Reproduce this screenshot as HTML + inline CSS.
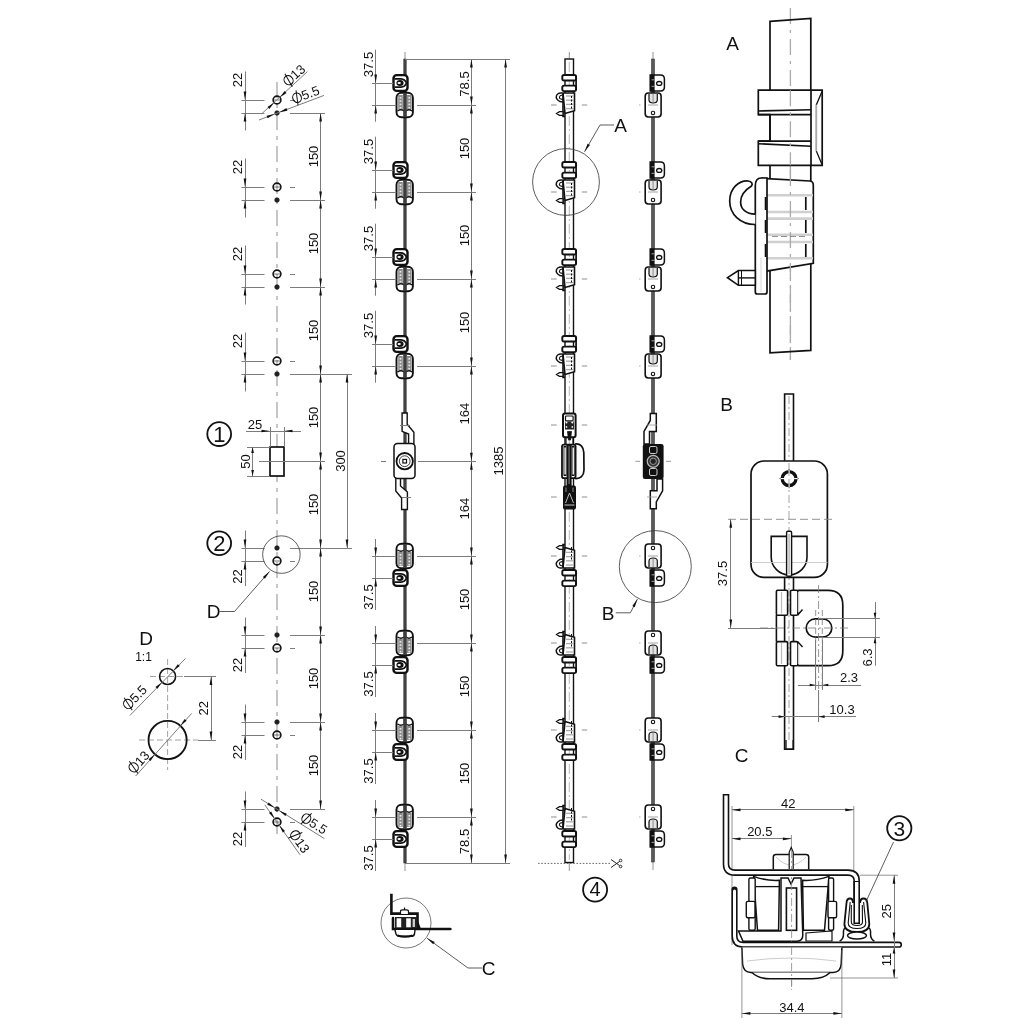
<!DOCTYPE html>
<html><head><meta charset="utf-8"><style>
html,body{margin:0;padding:0;background:#fff;}
svg{display:block;font-family:"Liberation Sans",sans-serif;will-change:transform;}
</style></head><body>
<svg width="1024" height="1024" viewBox="0 0 1024 1024">
<rect width="1024" height="1024" fill="#fff"/>
<line x1="277" y1="82" x2="277" y2="840" stroke="#b4b4b4" stroke-width="1.5" stroke-dasharray="16 6 4 6"/>
<circle cx="277" cy="100" r="3.9" stroke="#111" stroke-width="1.6" fill="none" />
<line x1="273.1" y1="100" x2="280.9" y2="100" stroke="#333" stroke-width="0.7" />
<circle cx="277" cy="113" r="2.3" fill="#222" stroke="#111" stroke-width="0.6"/>
<line x1="241.5" y1="100.5" x2="264.5" y2="100.5" stroke="#7c7c7c" stroke-width="1.0" />
<line x1="290" y1="100.5" x2="295" y2="100.5" stroke="#7c7c7c" stroke-width="1.0" />
<line x1="241.5" y1="113.5" x2="264.5" y2="113.5" stroke="#7c7c7c" stroke-width="1.0" />
<line x1="290" y1="113.5" x2="325" y2="113.5" stroke="#7c7c7c" stroke-width="1.0" />
<line x1="245.5" y1="71.5" x2="245.5" y2="130.5" stroke="#7c7c7c" stroke-width="1.0" />
<polygon points="245,100 243.65,91.5 246.35,91.5" fill="#111"/>
<polygon points="245,113 246.35,121.5 243.65,121.5" fill="#111"/>
<text transform="translate(237.7,80) rotate(-90)" y="4.68" font-size="13" text-anchor="middle" fill="#111" >22</text>
<circle cx="277" cy="187" r="3.9" stroke="#111" stroke-width="1.6" fill="none" />
<line x1="273.1" y1="187" x2="280.9" y2="187" stroke="#333" stroke-width="0.7" />
<circle cx="277" cy="200" r="2.3" fill="#222" stroke="#111" stroke-width="0.6"/>
<line x1="241.5" y1="187.5" x2="264.5" y2="187.5" stroke="#7c7c7c" stroke-width="1.0" />
<line x1="290" y1="187.5" x2="295" y2="187.5" stroke="#7c7c7c" stroke-width="1.0" />
<line x1="241.5" y1="200.5" x2="264.5" y2="200.5" stroke="#7c7c7c" stroke-width="1.0" />
<line x1="290" y1="200.5" x2="325" y2="200.5" stroke="#7c7c7c" stroke-width="1.0" />
<line x1="245.5" y1="158.5" x2="245.5" y2="217.5" stroke="#7c7c7c" stroke-width="1.0" />
<polygon points="245,187 243.65,178.5 246.35,178.5" fill="#111"/>
<polygon points="245,200 246.35,208.5 243.65,208.5" fill="#111"/>
<text transform="translate(237.7,167) rotate(-90)" y="4.68" font-size="13" text-anchor="middle" fill="#111" >22</text>
<circle cx="277" cy="274" r="3.9" stroke="#111" stroke-width="1.6" fill="none" />
<line x1="273.1" y1="274" x2="280.9" y2="274" stroke="#333" stroke-width="0.7" />
<circle cx="277" cy="287" r="2.3" fill="#222" stroke="#111" stroke-width="0.6"/>
<line x1="241.5" y1="274.5" x2="264.5" y2="274.5" stroke="#7c7c7c" stroke-width="1.0" />
<line x1="290" y1="274.5" x2="295" y2="274.5" stroke="#7c7c7c" stroke-width="1.0" />
<line x1="241.5" y1="287.5" x2="264.5" y2="287.5" stroke="#7c7c7c" stroke-width="1.0" />
<line x1="290" y1="287.5" x2="325" y2="287.5" stroke="#7c7c7c" stroke-width="1.0" />
<line x1="245.5" y1="245.5" x2="245.5" y2="304.5" stroke="#7c7c7c" stroke-width="1.0" />
<polygon points="245,274 243.65,265.5 246.35,265.5" fill="#111"/>
<polygon points="245,287 246.35,295.5 243.65,295.5" fill="#111"/>
<text transform="translate(237.7,254) rotate(-90)" y="4.68" font-size="13" text-anchor="middle" fill="#111" >22</text>
<circle cx="277" cy="361" r="3.9" stroke="#111" stroke-width="1.6" fill="none" />
<line x1="273.1" y1="361" x2="280.9" y2="361" stroke="#333" stroke-width="0.7" />
<circle cx="277" cy="374" r="2.3" fill="#222" stroke="#111" stroke-width="0.6"/>
<line x1="241.5" y1="361.5" x2="264.5" y2="361.5" stroke="#7c7c7c" stroke-width="1.0" />
<line x1="290" y1="361.5" x2="295" y2="361.5" stroke="#7c7c7c" stroke-width="1.0" />
<line x1="241.5" y1="374.5" x2="264.5" y2="374.5" stroke="#7c7c7c" stroke-width="1.0" />
<line x1="290" y1="374.5" x2="352" y2="374.5" stroke="#7c7c7c" stroke-width="1.0" />
<line x1="245.5" y1="332.5" x2="245.5" y2="391.5" stroke="#7c7c7c" stroke-width="1.0" />
<polygon points="245,361 243.65,352.5 246.35,352.5" fill="#111"/>
<polygon points="245,374 246.35,382.5 243.65,382.5" fill="#111"/>
<text transform="translate(237.7,341) rotate(-90)" y="4.68" font-size="13" text-anchor="middle" fill="#111" >22</text>
<circle cx="277" cy="561" r="3.9" stroke="#111" stroke-width="1.6" fill="none" />
<line x1="273.1" y1="561" x2="280.9" y2="561" stroke="#333" stroke-width="0.7" />
<circle cx="277" cy="548" r="2.3" fill="#222" stroke="#111" stroke-width="0.6"/>
<line x1="241.5" y1="561.5" x2="264.5" y2="561.5" stroke="#7c7c7c" stroke-width="1.0" />
<line x1="290" y1="561.5" x2="295" y2="561.5" stroke="#7c7c7c" stroke-width="1.0" />
<line x1="241.5" y1="548.5" x2="264.5" y2="548.5" stroke="#7c7c7c" stroke-width="1.0" />
<line x1="290" y1="548.5" x2="352" y2="548.5" stroke="#7c7c7c" stroke-width="1.0" />
<line x1="245.5" y1="530.5" x2="245.5" y2="586" stroke="#7c7c7c" stroke-width="1.0" />
<polygon points="245,548 243.65,539.5 246.35,539.5" fill="#111"/>
<polygon points="245,561 246.35,569.5 243.65,569.5" fill="#111"/>
<text transform="translate(237.7,576.5) rotate(-90)" y="4.68" font-size="13" text-anchor="middle" fill="#111" >22</text>
<circle cx="277" cy="648" r="3.9" stroke="#111" stroke-width="1.6" fill="none" />
<line x1="273.1" y1="648" x2="280.9" y2="648" stroke="#333" stroke-width="0.7" />
<circle cx="277" cy="635" r="2.3" fill="#222" stroke="#111" stroke-width="0.6"/>
<line x1="241.5" y1="648.5" x2="264.5" y2="648.5" stroke="#7c7c7c" stroke-width="1.0" />
<line x1="290" y1="648.5" x2="295" y2="648.5" stroke="#7c7c7c" stroke-width="1.0" />
<line x1="241.5" y1="635.5" x2="264.5" y2="635.5" stroke="#7c7c7c" stroke-width="1.0" />
<line x1="290" y1="635.5" x2="325" y2="635.5" stroke="#7c7c7c" stroke-width="1.0" />
<line x1="245.5" y1="617.5" x2="245.5" y2="673" stroke="#7c7c7c" stroke-width="1.0" />
<polygon points="245,635 243.65,626.5 246.35,626.5" fill="#111"/>
<polygon points="245,648 246.35,656.5 243.65,656.5" fill="#111"/>
<text transform="translate(237.7,665) rotate(-90)" y="4.68" font-size="13" text-anchor="middle" fill="#111" >22</text>
<circle cx="277" cy="735" r="3.9" stroke="#111" stroke-width="1.6" fill="none" />
<line x1="273.1" y1="735" x2="280.9" y2="735" stroke="#333" stroke-width="0.7" />
<circle cx="277" cy="722" r="2.3" fill="#222" stroke="#111" stroke-width="0.6"/>
<line x1="241.5" y1="735.5" x2="264.5" y2="735.5" stroke="#7c7c7c" stroke-width="1.0" />
<line x1="290" y1="735.5" x2="295" y2="735.5" stroke="#7c7c7c" stroke-width="1.0" />
<line x1="241.5" y1="722.5" x2="264.5" y2="722.5" stroke="#7c7c7c" stroke-width="1.0" />
<line x1="290" y1="722.5" x2="325" y2="722.5" stroke="#7c7c7c" stroke-width="1.0" />
<line x1="245.5" y1="704.5" x2="245.5" y2="760" stroke="#7c7c7c" stroke-width="1.0" />
<polygon points="245,722 243.65,713.5 246.35,713.5" fill="#111"/>
<polygon points="245,735 246.35,743.5 243.65,743.5" fill="#111"/>
<text transform="translate(237.7,752) rotate(-90)" y="4.68" font-size="13" text-anchor="middle" fill="#111" >22</text>
<circle cx="277" cy="822" r="3.9" stroke="#111" stroke-width="1.6" fill="none" />
<line x1="273.1" y1="822" x2="280.9" y2="822" stroke="#333" stroke-width="0.7" />
<circle cx="277" cy="809" r="2.3" fill="#222" stroke="#111" stroke-width="0.6"/>
<line x1="241.5" y1="822.5" x2="264.5" y2="822.5" stroke="#7c7c7c" stroke-width="1.0" />
<line x1="290" y1="822.5" x2="295" y2="822.5" stroke="#7c7c7c" stroke-width="1.0" />
<line x1="241.5" y1="809.5" x2="264.5" y2="809.5" stroke="#7c7c7c" stroke-width="1.0" />
<line x1="290" y1="809.5" x2="325" y2="809.5" stroke="#7c7c7c" stroke-width="1.0" />
<line x1="245.5" y1="791.5" x2="245.5" y2="847" stroke="#7c7c7c" stroke-width="1.0" />
<polygon points="245,809 243.65,800.5 246.35,800.5" fill="#111"/>
<polygon points="245,822 246.35,830.5 243.65,830.5" fill="#111"/>
<text transform="translate(237.7,839) rotate(-90)" y="4.68" font-size="13" text-anchor="middle" fill="#111" >22</text>
<line x1="320.5" y1="113" x2="320.5" y2="200" stroke="#7c7c7c" stroke-width="1.0" />
<polygon points="320.6,113 321.95,121.5 319.25,121.5" fill="#111"/>
<polygon points="320.6,200 319.25,191.5 321.95,191.5" fill="#111"/>
<text transform="translate(313.2,156.5) rotate(-90)" y="4.68" font-size="13" text-anchor="middle" fill="#111" >150</text>
<line x1="320.5" y1="200" x2="320.5" y2="287" stroke="#7c7c7c" stroke-width="1.0" />
<polygon points="320.6,200 321.95,208.5 319.25,208.5" fill="#111"/>
<polygon points="320.6,287 319.25,278.5 321.95,278.5" fill="#111"/>
<text transform="translate(313.2,243.5) rotate(-90)" y="4.68" font-size="13" text-anchor="middle" fill="#111" >150</text>
<line x1="320.5" y1="287" x2="320.5" y2="374" stroke="#7c7c7c" stroke-width="1.0" />
<polygon points="320.6,287 321.95,295.5 319.25,295.5" fill="#111"/>
<polygon points="320.6,374 319.25,365.5 321.95,365.5" fill="#111"/>
<text transform="translate(313.2,330.5) rotate(-90)" y="4.68" font-size="13" text-anchor="middle" fill="#111" >150</text>
<line x1="320.5" y1="374" x2="320.5" y2="461" stroke="#7c7c7c" stroke-width="1.0" />
<polygon points="320.6,374 321.95,382.5 319.25,382.5" fill="#111"/>
<polygon points="320.6,461 319.25,452.5 321.95,452.5" fill="#111"/>
<text transform="translate(313.2,417.5) rotate(-90)" y="4.68" font-size="13" text-anchor="middle" fill="#111" >150</text>
<line x1="320.5" y1="461" x2="320.5" y2="548" stroke="#7c7c7c" stroke-width="1.0" />
<polygon points="320.6,461 321.95,469.5 319.25,469.5" fill="#111"/>
<polygon points="320.6,548 319.25,539.5 321.95,539.5" fill="#111"/>
<text transform="translate(313.2,504.5) rotate(-90)" y="4.68" font-size="13" text-anchor="middle" fill="#111" >150</text>
<line x1="320.5" y1="548" x2="320.5" y2="635" stroke="#7c7c7c" stroke-width="1.0" />
<polygon points="320.6,548 321.95,556.5 319.25,556.5" fill="#111"/>
<polygon points="320.6,635 319.25,626.5 321.95,626.5" fill="#111"/>
<text transform="translate(313.2,591.5) rotate(-90)" y="4.68" font-size="13" text-anchor="middle" fill="#111" >150</text>
<line x1="320.5" y1="635" x2="320.5" y2="722" stroke="#7c7c7c" stroke-width="1.0" />
<polygon points="320.6,635 321.95,643.5 319.25,643.5" fill="#111"/>
<polygon points="320.6,722 319.25,713.5 321.95,713.5" fill="#111"/>
<text transform="translate(313.2,678.5) rotate(-90)" y="4.68" font-size="13" text-anchor="middle" fill="#111" >150</text>
<line x1="320.5" y1="722" x2="320.5" y2="809" stroke="#7c7c7c" stroke-width="1.0" />
<polygon points="320.6,722 321.95,730.5 319.25,730.5" fill="#111"/>
<polygon points="320.6,809 319.25,800.5 321.95,800.5" fill="#111"/>
<text transform="translate(313.2,765.5) rotate(-90)" y="4.68" font-size="13" text-anchor="middle" fill="#111" >150</text>
<line x1="347.5" y1="374" x2="347.5" y2="548" stroke="#7c7c7c" stroke-width="1.0" />
<polygon points="347,374 348.35,382.5 345.65,382.5" fill="#111"/>
<polygon points="347,548 345.65,539.5 348.35,539.5" fill="#111"/>
<text transform="translate(340.2,461) rotate(-90)" y="4.68" font-size="13" text-anchor="middle" fill="#111" >300</text>
<rect x="270" y="447" width="14" height="29" rx="0" stroke="#111" stroke-width="1.7" fill="#fff" />
<line x1="259" y1="461.5" x2="325" y2="461.5" stroke="#7c7c7c" stroke-width="1.0" />
<line x1="270.5" y1="427" x2="270.5" y2="447" stroke="#7c7c7c" stroke-width="1.0" />
<line x1="284.5" y1="427" x2="284.5" y2="447" stroke="#7c7c7c" stroke-width="1.0" />
<line x1="247" y1="447.5" x2="270" y2="447.5" stroke="#7c7c7c" stroke-width="1.0" />
<line x1="247" y1="476.5" x2="270" y2="476.5" stroke="#7c7c7c" stroke-width="1.0" />
<line x1="246" y1="431.5" x2="301" y2="431.5" stroke="#7c7c7c" stroke-width="1.0" />
<polygon points="270,431 261.5,432.35 261.5,429.65" fill="#111"/>
<polygon points="284,431 292.5,429.65 292.5,432.35" fill="#111"/>
<text x="255" y="428.68" font-size="13" text-anchor="middle" fill="#111" >25</text>
<line x1="252.5" y1="447" x2="252.5" y2="476" stroke="#7c7c7c" stroke-width="1.0" />
<polygon points="252.6,447 253.95,453 251.25,453" fill="#111"/>
<polygon points="252.6,476 251.25,470 253.95,470" fill="#111"/>
<text transform="translate(245.4,461.5) rotate(-90)" y="4.68" font-size="13" text-anchor="middle" fill="#111" >50</text>
<circle cx="219.2" cy="434.1" r="11.9" stroke="#111" stroke-width="1.8" fill="none" />
<text x="219.3" y="442.22" font-size="22" text-anchor="middle" fill="#111" >1</text>
<circle cx="219.2" cy="543.2" r="11.9" stroke="#111" stroke-width="1.8" fill="none" />
<text x="219.3" y="551.32" font-size="22" text-anchor="middle" fill="#111" >2</text>
<circle cx="281.4" cy="554.6" r="18.75" stroke="#333" stroke-width="0.8" fill="none" />
<path d="M219.5,611.5 L234.5,611.5 L269.5,571.5" stroke="#333" stroke-width="0.8" fill="none" />
<polygon points="269.5,571.5 264.92,578.79 262.89,577.01" fill="#111"/>
<text x="213.5" y="617.94" font-size="19" text-anchor="middle" fill="#111" >D</text>
<line x1="261.7" y1="113.8" x2="307.4" y2="71.6" stroke="#7c7c7c" stroke-width="1.0" />
<polygon points="274.3,102.6 269.33,109.01 267.5,107.02" fill="#111"/>
<polygon points="279.7,97.4 284.67,90.99 286.5,92.98" fill="#111"/>
<g transform="translate(293.9,75.3) rotate(-42.7)"><ellipse cx="-7.23" cy="0" rx="4.29" ry="4.81" fill="none" stroke="#111" stroke-width="1.1"/><line x1="-5.54" y1="-7.28" x2="-8.92" y2="7.28" stroke="#111" stroke-width="0.97"/><text x="-2.03" y="4.68" font-size="13" fill="#111">13</text></g>
<line x1="259" y1="120" x2="324" y2="95.4" stroke="#7c7c7c" stroke-width="1.0" />
<polygon points="274.6,114.1 267.59,118.19 266.64,115.67" fill="#111"/>
<polygon points="279.4,112.2 286.41,108.11 287.36,110.63" fill="#111"/>
<g transform="translate(305.5,94.6) rotate(-20.7)"><ellipse cx="-9.04" cy="0" rx="4.29" ry="4.81" fill="none" stroke="#111" stroke-width="1.1"/><line x1="-7.35" y1="-7.28" x2="-10.72" y2="7.28" stroke="#111" stroke-width="0.97"/><text x="-3.83" y="4.68" font-size="13" fill="#111">5.5</text></g>
<line x1="261" y1="799.2" x2="324.4" y2="838.6" stroke="#7c7c7c" stroke-width="1.0" />
<polygon points="279.3,810.7 286.81,813.77 285.39,816.06" fill="#111"/>
<polygon points="274.7,807.8 267.19,804.73 268.61,802.44" fill="#111"/>
<g transform="translate(314,823.4) rotate(31.9)"><ellipse cx="-9.04" cy="0" rx="4.29" ry="4.81" fill="none" stroke="#111" stroke-width="1.1"/><line x1="-7.35" y1="-7.28" x2="-10.72" y2="7.28" stroke="#111" stroke-width="0.97"/><text x="-3.83" y="4.68" font-size="13" fill="#111">5.5</text></g>
<line x1="264.8" y1="804.8" x2="300" y2="854.8" stroke="#7c7c7c" stroke-width="1.0" />
<polygon points="274.7,818.8 268.99,813.04 271.2,811.48" fill="#111"/>
<polygon points="279.3,825.2 285.01,830.96 282.8,832.52" fill="#111"/>
<g transform="translate(299.5,841.2) rotate(55)"><ellipse cx="-7.23" cy="0" rx="4.29" ry="4.81" fill="none" stroke="#111" stroke-width="1.1"/><line x1="-5.54" y1="-7.28" x2="-8.92" y2="7.28" stroke="#111" stroke-width="0.97"/><text x="-2.03" y="4.68" font-size="13" fill="#111">13</text></g>
<text x="146.2" y="644.74" font-size="19" text-anchor="middle" fill="#111" >D</text>
<text x="143.5" y="660.82" font-size="12" text-anchor="middle" fill="#111" >1:1</text>
<line x1="167.6" y1="659" x2="167.6" y2="770" stroke="#8a8a8a" stroke-width="0.8" stroke-dasharray="6 3"/>
<line x1="150" y1="676.5" x2="184" y2="676.5" stroke="#8a8a8a" stroke-width="0.8" stroke-dasharray="6 3"/>
<line x1="139" y1="740" x2="198" y2="740" stroke="#8a8a8a" stroke-width="0.8" stroke-dasharray="6 3"/>
<circle cx="167.6" cy="676.5" r="8" stroke="#111" stroke-width="1.6" fill="none" />
<circle cx="167.6" cy="740" r="19.1" stroke="#111" stroke-width="1.8" fill="none" />
<line x1="184" y1="676.5" x2="216" y2="676.5" stroke="#7c7c7c" stroke-width="1.0" />
<line x1="198" y1="740.5" x2="216" y2="740.5" stroke="#7c7c7c" stroke-width="1.0" />
<line x1="211.5" y1="676.5" x2="211.5" y2="740" stroke="#7c7c7c" stroke-width="1.0" />
<polygon points="211,676.5 212.35,685 209.65,685" fill="#111"/>
<polygon points="211,740 209.65,731.5 212.35,731.5" fill="#111"/>
<text transform="translate(203.7,708.3) rotate(-90)" y="4.68" font-size="13" text-anchor="middle" fill="#111" >22</text>
<line x1="129.9" y1="715.5" x2="185.5" y2="658.5" stroke="#7c7c7c" stroke-width="1.0" />
<polygon points="173.2,670.8 177.82,664.13 179.75,666.01" fill="#111"/>
<polygon points="162,682.2 157.38,688.87 155.45,686.99" fill="#111"/>
<g transform="translate(134.5,697.5) rotate(-45.7)"><ellipse cx="-9.04" cy="0" rx="4.29" ry="4.81" fill="none" stroke="#111" stroke-width="1.1"/><line x1="-7.35" y1="-7.28" x2="-10.72" y2="7.28" stroke="#111" stroke-width="0.97"/><text x="-3.83" y="4.68" font-size="13" fill="#111">5.5</text></g>
<line x1="135.7" y1="776" x2="191.7" y2="713.4" stroke="#7c7c7c" stroke-width="1.0" />
<polygon points="180.3,725.8 184.63,718.94 186.64,720.74" fill="#111"/>
<polygon points="154.9,754.2 150.57,761.06 148.56,759.26" fill="#111"/>
<g transform="translate(138.5,762) rotate(-48.2)"><ellipse cx="-7.23" cy="0" rx="4.29" ry="4.81" fill="none" stroke="#111" stroke-width="1.1"/><line x1="-5.54" y1="-7.28" x2="-8.92" y2="7.28" stroke="#111" stroke-width="0.97"/><text x="-2.03" y="4.68" font-size="13" fill="#111">13</text></g>
<line x1="405" y1="52" x2="405" y2="59" stroke="#666" stroke-width="0.7" />
<line x1="405" y1="863" x2="405" y2="871" stroke="#666" stroke-width="0.7" />
<rect x="403.8" y="59" width="2.4" height="804" fill="#444" stroke="#222" stroke-width="0.5"/>
<rect x="393.5" y="75.1" width="14" height="15.8" rx="3.2" stroke="#111" stroke-width="2.4" fill="#fff" />
<path d="M394.5,78.8 L401,78.8 Q404.8,79 406.5,83 Q404.8,87 401,87.2 L394.5,87.2" stroke="#111" stroke-width="1.8" fill="none" />
<ellipse cx="400" cy="83" rx="3.6" ry="3" fill="#111"/>
<ellipse cx="399.2" cy="83" rx="1.7" ry="1.1" fill="#fff"/>
<rect x="393.5" y="162.1" width="14" height="15.8" rx="3.2" stroke="#111" stroke-width="2.4" fill="#fff" />
<path d="M394.5,165.8 L401,165.8 Q404.8,166 406.5,170 Q404.8,174 401,174.2 L394.5,174.2" stroke="#111" stroke-width="1.8" fill="none" />
<ellipse cx="400" cy="170" rx="3.6" ry="3" fill="#111"/>
<ellipse cx="399.2" cy="170" rx="1.7" ry="1.1" fill="#fff"/>
<rect x="393.5" y="249.1" width="14" height="15.8" rx="3.2" stroke="#111" stroke-width="2.4" fill="#fff" />
<path d="M394.5,252.8 L401,252.8 Q404.8,253 406.5,257 Q404.8,261 401,261.2 L394.5,261.2" stroke="#111" stroke-width="1.8" fill="none" />
<ellipse cx="400" cy="257" rx="3.6" ry="3" fill="#111"/>
<ellipse cx="399.2" cy="257" rx="1.7" ry="1.1" fill="#fff"/>
<rect x="393.5" y="336.1" width="14" height="15.8" rx="3.2" stroke="#111" stroke-width="2.4" fill="#fff" />
<path d="M394.5,339.8 L401,339.8 Q404.8,340 406.5,344 Q404.8,348 401,348.2 L394.5,348.2" stroke="#111" stroke-width="1.8" fill="none" />
<ellipse cx="400" cy="344" rx="3.6" ry="3" fill="#111"/>
<ellipse cx="399.2" cy="344" rx="1.7" ry="1.1" fill="#fff"/>
<rect x="393.5" y="570.1" width="14" height="15.8" rx="3.2" stroke="#111" stroke-width="2.4" fill="#fff" />
<path d="M394.5,573.8 L401,573.8 Q404.8,574 406.5,578 Q404.8,582 401,582.2 L394.5,582.2" stroke="#111" stroke-width="1.8" fill="none" />
<ellipse cx="400" cy="578" rx="3.6" ry="3" fill="#111"/>
<ellipse cx="399.2" cy="578" rx="1.7" ry="1.1" fill="#fff"/>
<rect x="393.5" y="657.1" width="14" height="15.8" rx="3.2" stroke="#111" stroke-width="2.4" fill="#fff" />
<path d="M394.5,660.8 L401,660.8 Q404.8,661 406.5,665 Q404.8,669 401,669.2 L394.5,669.2" stroke="#111" stroke-width="1.8" fill="none" />
<ellipse cx="400" cy="665" rx="3.6" ry="3" fill="#111"/>
<ellipse cx="399.2" cy="665" rx="1.7" ry="1.1" fill="#fff"/>
<rect x="393.5" y="744.1" width="14" height="15.8" rx="3.2" stroke="#111" stroke-width="2.4" fill="#fff" />
<path d="M394.5,747.8 L401,747.8 Q404.8,748 406.5,752 Q404.8,756 401,756.2 L394.5,756.2" stroke="#111" stroke-width="1.8" fill="none" />
<ellipse cx="400" cy="752" rx="3.6" ry="3" fill="#111"/>
<ellipse cx="399.2" cy="752" rx="1.7" ry="1.1" fill="#fff"/>
<rect x="393.5" y="831.1" width="14" height="15.8" rx="3.2" stroke="#111" stroke-width="2.4" fill="#fff" />
<path d="M394.5,834.8 L401,834.8 Q404.8,835 406.5,839 Q404.8,843 401,843.2 L394.5,843.2" stroke="#111" stroke-width="1.8" fill="none" />
<ellipse cx="400" cy="839" rx="3.6" ry="3" fill="#111"/>
<ellipse cx="399.2" cy="839" rx="1.7" ry="1.1" fill="#fff"/>
<rect x="396.5" y="92.8" width="16.4" height="24.4" rx="5" stroke="#111" stroke-width="1.9" fill="#fff" />
<rect x="398.2" y="95" width="4.6" height="14" fill="#8c8c8c"/>
<rect x="407" y="95" width="4.6" height="14" fill="#8c8c8c"/>
<rect x="399.6" y="97" width="1.8" height="1.6" fill="#e8e8e8"/>
<rect x="408.4" y="97" width="1.8" height="1.6" fill="#e8e8e8"/>
<rect x="399.6" y="100.3" width="1.8" height="1.6" fill="#e8e8e8"/>
<rect x="408.4" y="100.3" width="1.8" height="1.6" fill="#e8e8e8"/>
<rect x="399.6" y="103.6" width="1.8" height="1.6" fill="#e8e8e8"/>
<rect x="408.4" y="103.6" width="1.8" height="1.6" fill="#e8e8e8"/>
<rect x="399.6" y="106.9" width="1.8" height="1.6" fill="#e8e8e8"/>
<rect x="408.4" y="106.9" width="1.8" height="1.6" fill="#e8e8e8"/>
<path d="M397.5,111 Q401,108.5 404,111 M406,111 Q409,108.5 412,111" stroke="#111" stroke-width="1.4" fill="none" />
<rect x="403.2" y="93" width="3.6" height="24" fill="#3c3c3c"/>
<rect x="396.5" y="179.8" width="16.4" height="24.4" rx="5" stroke="#111" stroke-width="1.9" fill="#fff" />
<rect x="398.2" y="182" width="4.6" height="14" fill="#8c8c8c"/>
<rect x="407" y="182" width="4.6" height="14" fill="#8c8c8c"/>
<rect x="399.6" y="184" width="1.8" height="1.6" fill="#e8e8e8"/>
<rect x="408.4" y="184" width="1.8" height="1.6" fill="#e8e8e8"/>
<rect x="399.6" y="187.3" width="1.8" height="1.6" fill="#e8e8e8"/>
<rect x="408.4" y="187.3" width="1.8" height="1.6" fill="#e8e8e8"/>
<rect x="399.6" y="190.6" width="1.8" height="1.6" fill="#e8e8e8"/>
<rect x="408.4" y="190.6" width="1.8" height="1.6" fill="#e8e8e8"/>
<rect x="399.6" y="193.9" width="1.8" height="1.6" fill="#e8e8e8"/>
<rect x="408.4" y="193.9" width="1.8" height="1.6" fill="#e8e8e8"/>
<path d="M397.5,198 Q401,195.5 404,198 M406,198 Q409,195.5 412,198" stroke="#111" stroke-width="1.4" fill="none" />
<rect x="403.2" y="180" width="3.6" height="24" fill="#3c3c3c"/>
<rect x="396.5" y="266.8" width="16.4" height="24.4" rx="5" stroke="#111" stroke-width="1.9" fill="#fff" />
<rect x="398.2" y="269" width="4.6" height="14" fill="#8c8c8c"/>
<rect x="407" y="269" width="4.6" height="14" fill="#8c8c8c"/>
<rect x="399.6" y="271" width="1.8" height="1.6" fill="#e8e8e8"/>
<rect x="408.4" y="271" width="1.8" height="1.6" fill="#e8e8e8"/>
<rect x="399.6" y="274.3" width="1.8" height="1.6" fill="#e8e8e8"/>
<rect x="408.4" y="274.3" width="1.8" height="1.6" fill="#e8e8e8"/>
<rect x="399.6" y="277.6" width="1.8" height="1.6" fill="#e8e8e8"/>
<rect x="408.4" y="277.6" width="1.8" height="1.6" fill="#e8e8e8"/>
<rect x="399.6" y="280.9" width="1.8" height="1.6" fill="#e8e8e8"/>
<rect x="408.4" y="280.9" width="1.8" height="1.6" fill="#e8e8e8"/>
<path d="M397.5,285 Q401,282.5 404,285 M406,285 Q409,282.5 412,285" stroke="#111" stroke-width="1.4" fill="none" />
<rect x="403.2" y="267" width="3.6" height="24" fill="#3c3c3c"/>
<rect x="396.5" y="353.8" width="16.4" height="24.4" rx="5" stroke="#111" stroke-width="1.9" fill="#fff" />
<rect x="398.2" y="356" width="4.6" height="14" fill="#8c8c8c"/>
<rect x="407" y="356" width="4.6" height="14" fill="#8c8c8c"/>
<rect x="399.6" y="358" width="1.8" height="1.6" fill="#e8e8e8"/>
<rect x="408.4" y="358" width="1.8" height="1.6" fill="#e8e8e8"/>
<rect x="399.6" y="361.3" width="1.8" height="1.6" fill="#e8e8e8"/>
<rect x="408.4" y="361.3" width="1.8" height="1.6" fill="#e8e8e8"/>
<rect x="399.6" y="364.6" width="1.8" height="1.6" fill="#e8e8e8"/>
<rect x="408.4" y="364.6" width="1.8" height="1.6" fill="#e8e8e8"/>
<rect x="399.6" y="367.9" width="1.8" height="1.6" fill="#e8e8e8"/>
<rect x="408.4" y="367.9" width="1.8" height="1.6" fill="#e8e8e8"/>
<path d="M397.5,372 Q401,369.5 404,372 M406,372 Q409,369.5 412,372" stroke="#111" stroke-width="1.4" fill="none" />
<rect x="403.2" y="354" width="3.6" height="24" fill="#3c3c3c"/>
<rect x="396.5" y="543.8" width="16.4" height="24.4" rx="5" stroke="#111" stroke-width="1.9" fill="#fff" />
<rect x="398.2" y="552" width="4.6" height="14" fill="#8c8c8c"/>
<rect x="407" y="552" width="4.6" height="14" fill="#8c8c8c"/>
<rect x="399.6" y="554" width="1.8" height="1.6" fill="#e8e8e8"/>
<rect x="408.4" y="554" width="1.8" height="1.6" fill="#e8e8e8"/>
<rect x="399.6" y="557.3" width="1.8" height="1.6" fill="#e8e8e8"/>
<rect x="408.4" y="557.3" width="1.8" height="1.6" fill="#e8e8e8"/>
<rect x="399.6" y="560.6" width="1.8" height="1.6" fill="#e8e8e8"/>
<rect x="408.4" y="560.6" width="1.8" height="1.6" fill="#e8e8e8"/>
<rect x="399.6" y="563.9" width="1.8" height="1.6" fill="#e8e8e8"/>
<rect x="408.4" y="563.9" width="1.8" height="1.6" fill="#e8e8e8"/>
<path d="M397.5,550 Q401,552.5 404,550 M406,550 Q409,552.5 412,550" stroke="#111" stroke-width="1.4" fill="none" />
<rect x="403.2" y="544" width="3.6" height="24" fill="#3c3c3c"/>
<rect x="396.5" y="630.8" width="16.4" height="24.4" rx="5" stroke="#111" stroke-width="1.9" fill="#fff" />
<rect x="398.2" y="639" width="4.6" height="14" fill="#8c8c8c"/>
<rect x="407" y="639" width="4.6" height="14" fill="#8c8c8c"/>
<rect x="399.6" y="641" width="1.8" height="1.6" fill="#e8e8e8"/>
<rect x="408.4" y="641" width="1.8" height="1.6" fill="#e8e8e8"/>
<rect x="399.6" y="644.3" width="1.8" height="1.6" fill="#e8e8e8"/>
<rect x="408.4" y="644.3" width="1.8" height="1.6" fill="#e8e8e8"/>
<rect x="399.6" y="647.6" width="1.8" height="1.6" fill="#e8e8e8"/>
<rect x="408.4" y="647.6" width="1.8" height="1.6" fill="#e8e8e8"/>
<rect x="399.6" y="650.9" width="1.8" height="1.6" fill="#e8e8e8"/>
<rect x="408.4" y="650.9" width="1.8" height="1.6" fill="#e8e8e8"/>
<path d="M397.5,637 Q401,639.5 404,637 M406,637 Q409,639.5 412,637" stroke="#111" stroke-width="1.4" fill="none" />
<rect x="403.2" y="631" width="3.6" height="24" fill="#3c3c3c"/>
<rect x="396.5" y="717.8" width="16.4" height="24.4" rx="5" stroke="#111" stroke-width="1.9" fill="#fff" />
<rect x="398.2" y="726" width="4.6" height="14" fill="#8c8c8c"/>
<rect x="407" y="726" width="4.6" height="14" fill="#8c8c8c"/>
<rect x="399.6" y="728" width="1.8" height="1.6" fill="#e8e8e8"/>
<rect x="408.4" y="728" width="1.8" height="1.6" fill="#e8e8e8"/>
<rect x="399.6" y="731.3" width="1.8" height="1.6" fill="#e8e8e8"/>
<rect x="408.4" y="731.3" width="1.8" height="1.6" fill="#e8e8e8"/>
<rect x="399.6" y="734.6" width="1.8" height="1.6" fill="#e8e8e8"/>
<rect x="408.4" y="734.6" width="1.8" height="1.6" fill="#e8e8e8"/>
<rect x="399.6" y="737.9" width="1.8" height="1.6" fill="#e8e8e8"/>
<rect x="408.4" y="737.9" width="1.8" height="1.6" fill="#e8e8e8"/>
<path d="M397.5,724 Q401,726.5 404,724 M406,724 Q409,726.5 412,724" stroke="#111" stroke-width="1.4" fill="none" />
<rect x="403.2" y="718" width="3.6" height="24" fill="#3c3c3c"/>
<rect x="396.5" y="804.8" width="16.4" height="24.4" rx="5" stroke="#111" stroke-width="1.9" fill="#fff" />
<rect x="398.2" y="813" width="4.6" height="14" fill="#8c8c8c"/>
<rect x="407" y="813" width="4.6" height="14" fill="#8c8c8c"/>
<rect x="399.6" y="815" width="1.8" height="1.6" fill="#e8e8e8"/>
<rect x="408.4" y="815" width="1.8" height="1.6" fill="#e8e8e8"/>
<rect x="399.6" y="818.3" width="1.8" height="1.6" fill="#e8e8e8"/>
<rect x="408.4" y="818.3" width="1.8" height="1.6" fill="#e8e8e8"/>
<rect x="399.6" y="821.6" width="1.8" height="1.6" fill="#e8e8e8"/>
<rect x="408.4" y="821.6" width="1.8" height="1.6" fill="#e8e8e8"/>
<rect x="399.6" y="824.9" width="1.8" height="1.6" fill="#e8e8e8"/>
<rect x="408.4" y="824.9" width="1.8" height="1.6" fill="#e8e8e8"/>
<path d="M397.5,811 Q401,813.5 404,811 M406,811 Q409,813.5 412,811" stroke="#111" stroke-width="1.4" fill="none" />
<rect x="403.2" y="805" width="3.6" height="24" fill="#3c3c3c"/>
<line x1="372" y1="83.5" x2="393.3" y2="83.5" stroke="#7c7c7c" stroke-width="1.0" />
<line x1="372" y1="170.5" x2="393.3" y2="170.5" stroke="#7c7c7c" stroke-width="1.0" />
<line x1="372" y1="257.5" x2="393.3" y2="257.5" stroke="#7c7c7c" stroke-width="1.0" />
<line x1="372" y1="344.5" x2="393.3" y2="344.5" stroke="#7c7c7c" stroke-width="1.0" />
<line x1="372" y1="578.5" x2="393.3" y2="578.5" stroke="#7c7c7c" stroke-width="1.0" />
<line x1="372" y1="665.5" x2="393.3" y2="665.5" stroke="#7c7c7c" stroke-width="1.0" />
<line x1="372" y1="752.5" x2="393.3" y2="752.5" stroke="#7c7c7c" stroke-width="1.0" />
<line x1="372" y1="839.5" x2="393.3" y2="839.5" stroke="#7c7c7c" stroke-width="1.0" />
<line x1="372" y1="105.5" x2="396.3" y2="105.5" stroke="#7c7c7c" stroke-width="1.0" />
<line x1="417" y1="105.5" x2="476" y2="105.5" stroke="#7c7c7c" stroke-width="1.0" />
<line x1="372" y1="192.5" x2="396.3" y2="192.5" stroke="#7c7c7c" stroke-width="1.0" />
<line x1="417" y1="192.5" x2="476" y2="192.5" stroke="#7c7c7c" stroke-width="1.0" />
<line x1="372" y1="279.5" x2="396.3" y2="279.5" stroke="#7c7c7c" stroke-width="1.0" />
<line x1="417" y1="279.5" x2="476" y2="279.5" stroke="#7c7c7c" stroke-width="1.0" />
<line x1="372" y1="366.5" x2="396.3" y2="366.5" stroke="#7c7c7c" stroke-width="1.0" />
<line x1="417" y1="366.5" x2="476" y2="366.5" stroke="#7c7c7c" stroke-width="1.0" />
<line x1="372" y1="556.5" x2="396.3" y2="556.5" stroke="#7c7c7c" stroke-width="1.0" />
<line x1="417" y1="556.5" x2="476" y2="556.5" stroke="#7c7c7c" stroke-width="1.0" />
<line x1="372" y1="643.5" x2="396.3" y2="643.5" stroke="#7c7c7c" stroke-width="1.0" />
<line x1="417" y1="643.5" x2="476" y2="643.5" stroke="#7c7c7c" stroke-width="1.0" />
<line x1="372" y1="730.5" x2="396.3" y2="730.5" stroke="#7c7c7c" stroke-width="1.0" />
<line x1="417" y1="730.5" x2="476" y2="730.5" stroke="#7c7c7c" stroke-width="1.0" />
<line x1="372" y1="817.5" x2="396.3" y2="817.5" stroke="#7c7c7c" stroke-width="1.0" />
<line x1="417" y1="817.5" x2="476" y2="817.5" stroke="#7c7c7c" stroke-width="1.0" />
<line x1="375.5" y1="49.7" x2="375.5" y2="121.7" stroke="#7c7c7c" stroke-width="1.0" />
<polygon points="375.7,83 374.35,74.5 377.05,74.5" fill="#111"/>
<polygon points="375.7,105 377.05,113.5 374.35,113.5" fill="#111"/>
<text transform="translate(368.7,64.5) rotate(-90)" y="4.68" font-size="13" text-anchor="middle" fill="#111" >37.5</text>
<line x1="375.5" y1="136.7" x2="375.5" y2="208.7" stroke="#7c7c7c" stroke-width="1.0" />
<polygon points="375.7,170 374.35,161.5 377.05,161.5" fill="#111"/>
<polygon points="375.7,192 377.05,200.5 374.35,200.5" fill="#111"/>
<text transform="translate(368.7,151.5) rotate(-90)" y="4.68" font-size="13" text-anchor="middle" fill="#111" >37.5</text>
<line x1="375.5" y1="223.7" x2="375.5" y2="295.7" stroke="#7c7c7c" stroke-width="1.0" />
<polygon points="375.7,257 374.35,248.5 377.05,248.5" fill="#111"/>
<polygon points="375.7,279 377.05,287.5 374.35,287.5" fill="#111"/>
<text transform="translate(368.7,238.5) rotate(-90)" y="4.68" font-size="13" text-anchor="middle" fill="#111" >37.5</text>
<line x1="375.5" y1="310.7" x2="375.5" y2="382.7" stroke="#7c7c7c" stroke-width="1.0" />
<polygon points="375.7,344 374.35,335.5 377.05,335.5" fill="#111"/>
<polygon points="375.7,366 377.05,374.5 374.35,374.5" fill="#111"/>
<text transform="translate(368.7,325.5) rotate(-90)" y="4.68" font-size="13" text-anchor="middle" fill="#111" >37.5</text>
<line x1="375.5" y1="539" x2="375.5" y2="610" stroke="#7c7c7c" stroke-width="1.0" />
<polygon points="375.7,556 374.35,547.5 377.05,547.5" fill="#111"/>
<polygon points="375.7,578 377.05,586.5 374.35,586.5" fill="#111"/>
<text transform="translate(368.7,597) rotate(-90)" y="4.68" font-size="13" text-anchor="middle" fill="#111" >37.5</text>
<line x1="375.5" y1="626" x2="375.5" y2="697" stroke="#7c7c7c" stroke-width="1.0" />
<polygon points="375.7,643 374.35,634.5 377.05,634.5" fill="#111"/>
<polygon points="375.7,665 377.05,673.5 374.35,673.5" fill="#111"/>
<text transform="translate(368.7,684) rotate(-90)" y="4.68" font-size="13" text-anchor="middle" fill="#111" >37.5</text>
<line x1="375.5" y1="713" x2="375.5" y2="784" stroke="#7c7c7c" stroke-width="1.0" />
<polygon points="375.7,730 374.35,721.5 377.05,721.5" fill="#111"/>
<polygon points="375.7,752 377.05,760.5 374.35,760.5" fill="#111"/>
<text transform="translate(368.7,771) rotate(-90)" y="4.68" font-size="13" text-anchor="middle" fill="#111" >37.5</text>
<line x1="375.5" y1="800" x2="375.5" y2="871" stroke="#7c7c7c" stroke-width="1.0" />
<polygon points="375.7,817 374.35,808.5 377.05,808.5" fill="#111"/>
<polygon points="375.7,839 377.05,847.5 374.35,847.5" fill="#111"/>
<text transform="translate(368.7,858) rotate(-90)" y="4.68" font-size="13" text-anchor="middle" fill="#111" >37.5</text>
<path d="M402.1,413 L407.2,413 L407.2,424.3 L413.9,432.2 L413.9,443.6 L408.6,443.6 L408.6,434 L402.1,431.3 Z" stroke="#111" stroke-width="1.4" fill="#fff" />
<path d="M395.8,478.4 L400.5,478.4 L400.5,486 L407.4,492 L407.4,509.5 L401.6,509.5 L401.6,498.1 L395.8,491 Z" stroke="#111" stroke-width="1.4" fill="#fff" />
<rect x="394" y="443.6" width="21" height="34.8" rx="3.5" stroke="#111" stroke-width="1.5" fill="#fff" />
<circle cx="404.7" cy="461.2" r="8.2" stroke="#111" stroke-width="1.8" fill="none" />
<circle cx="404.7" cy="461.2" r="5.4" stroke="#111" stroke-width="0.8" fill="none" />
<rect x="402.9" y="459.4" width="3.6" height="3.6" rx="0" stroke="#111" stroke-width="1.2" fill="#fff" />
<line x1="400" y1="425.5" x2="410" y2="425.5" stroke="#7c7c7c" stroke-width="1.0" />
<line x1="402" y1="497.5" x2="411" y2="497.5" stroke="#7c7c7c" stroke-width="1.0" />
<line x1="381" y1="461.5" x2="386" y2="461.5" stroke="#7c7c7c" stroke-width="1.0" />
<line x1="418" y1="461.5" x2="476" y2="461.5" stroke="#7c7c7c" stroke-width="1.0" />
<line x1="471.5" y1="59" x2="471.5" y2="105" stroke="#7c7c7c" stroke-width="1.0" />
<polygon points="471.4,59 472.75,67.5 470.05,67.5" fill="#111"/>
<polygon points="471.4,105 470.05,96.5 472.75,96.5" fill="#111"/>
<text transform="translate(464.2,84) rotate(-90)" y="4.68" font-size="13" text-anchor="middle" fill="#111" >78.5</text>
<line x1="471.5" y1="105" x2="471.5" y2="192" stroke="#7c7c7c" stroke-width="1.0" />
<polygon points="471.4,105 472.75,113.5 470.05,113.5" fill="#111"/>
<polygon points="471.4,192 470.05,183.5 472.75,183.5" fill="#111"/>
<text transform="translate(464.2,148.5) rotate(-90)" y="4.68" font-size="13" text-anchor="middle" fill="#111" >150</text>
<line x1="471.5" y1="192" x2="471.5" y2="279" stroke="#7c7c7c" stroke-width="1.0" />
<polygon points="471.4,192 472.75,200.5 470.05,200.5" fill="#111"/>
<polygon points="471.4,279 470.05,270.5 472.75,270.5" fill="#111"/>
<text transform="translate(464.2,235.5) rotate(-90)" y="4.68" font-size="13" text-anchor="middle" fill="#111" >150</text>
<line x1="471.5" y1="279" x2="471.5" y2="366" stroke="#7c7c7c" stroke-width="1.0" />
<polygon points="471.4,279 472.75,287.5 470.05,287.5" fill="#111"/>
<polygon points="471.4,366 470.05,357.5 472.75,357.5" fill="#111"/>
<text transform="translate(464.2,322.5) rotate(-90)" y="4.68" font-size="13" text-anchor="middle" fill="#111" >150</text>
<line x1="471.5" y1="366" x2="471.5" y2="461.2" stroke="#7c7c7c" stroke-width="1.0" />
<polygon points="471.4,366 472.75,374.5 470.05,374.5" fill="#111"/>
<polygon points="471.4,461.2 470.05,452.7 472.75,452.7" fill="#111"/>
<text transform="translate(464.2,413.6) rotate(-90)" y="4.68" font-size="13" text-anchor="middle" fill="#111" >164</text>
<line x1="471.5" y1="461.2" x2="471.5" y2="556" stroke="#7c7c7c" stroke-width="1.0" />
<polygon points="471.4,461.2 472.75,469.7 470.05,469.7" fill="#111"/>
<polygon points="471.4,556 470.05,547.5 472.75,547.5" fill="#111"/>
<text transform="translate(464.2,508.6) rotate(-90)" y="4.68" font-size="13" text-anchor="middle" fill="#111" >164</text>
<line x1="471.5" y1="556" x2="471.5" y2="643" stroke="#7c7c7c" stroke-width="1.0" />
<polygon points="471.4,556 472.75,564.5 470.05,564.5" fill="#111"/>
<polygon points="471.4,643 470.05,634.5 472.75,634.5" fill="#111"/>
<text transform="translate(464.2,599.5) rotate(-90)" y="4.68" font-size="13" text-anchor="middle" fill="#111" >150</text>
<line x1="471.5" y1="643" x2="471.5" y2="730" stroke="#7c7c7c" stroke-width="1.0" />
<polygon points="471.4,643 472.75,651.5 470.05,651.5" fill="#111"/>
<polygon points="471.4,730 470.05,721.5 472.75,721.5" fill="#111"/>
<text transform="translate(464.2,686.5) rotate(-90)" y="4.68" font-size="13" text-anchor="middle" fill="#111" >150</text>
<line x1="471.5" y1="730" x2="471.5" y2="817" stroke="#7c7c7c" stroke-width="1.0" />
<polygon points="471.4,730 472.75,738.5 470.05,738.5" fill="#111"/>
<polygon points="471.4,817 470.05,808.5 472.75,808.5" fill="#111"/>
<text transform="translate(464.2,773.5) rotate(-90)" y="4.68" font-size="13" text-anchor="middle" fill="#111" >150</text>
<line x1="471.5" y1="817" x2="471.5" y2="863" stroke="#7c7c7c" stroke-width="1.0" />
<polygon points="471.4,817 472.75,825.5 470.05,825.5" fill="#111"/>
<polygon points="471.4,863 470.05,854.5 472.75,854.5" fill="#111"/>
<text transform="translate(464.2,841.5) rotate(-90)" y="4.68" font-size="13" text-anchor="middle" fill="#111" >78.5</text>
<line x1="405" y1="59.5" x2="510" y2="59.5" stroke="#7c7c7c" stroke-width="1.0" />
<line x1="405" y1="863.5" x2="510" y2="863.5" stroke="#7c7c7c" stroke-width="1.0" />
<line x1="505.5" y1="59" x2="505.5" y2="863" stroke="#7c7c7c" stroke-width="1.0" />
<polygon points="505.6,59 506.95,67.5 504.25,67.5" fill="#111"/>
<polygon points="505.6,863 504.25,854.5 506.95,854.5" fill="#111"/>
<text transform="translate(498.2,461) rotate(-90)" y="4.68" font-size="13" text-anchor="middle" fill="#111" >1385</text>
<line x1="569.3" y1="52" x2="569.3" y2="59" stroke="#666" stroke-width="0.7" />
<rect x="565" y="59" width="8.5" height="803.5" fill="#fff" stroke="#111" stroke-width="1.4"/>
<line x1="569.3" y1="62" x2="569.3" y2="860" stroke="#999" stroke-width="0.7" stroke-dasharray="10 3 2 3"/>
<rect x="562.3" y="75" width="13.8" height="5.5" rx="1.8" stroke="#111" stroke-width="1.9" fill="#fff" />
<rect x="562.3" y="85.6" width="13.8" height="5.5" rx="1.8" stroke="#111" stroke-width="1.9" fill="#fff" />
<line x1="576.1" y1="76" x2="576.1" y2="90" stroke="#111" stroke-width="1.7" />
<rect x="562.3" y="162" width="13.8" height="5.5" rx="1.8" stroke="#111" stroke-width="1.9" fill="#fff" />
<rect x="562.3" y="172.6" width="13.8" height="5.5" rx="1.8" stroke="#111" stroke-width="1.9" fill="#fff" />
<line x1="576.1" y1="163" x2="576.1" y2="177" stroke="#111" stroke-width="1.7" />
<rect x="562.3" y="249" width="13.8" height="5.5" rx="1.8" stroke="#111" stroke-width="1.9" fill="#fff" />
<rect x="562.3" y="259.6" width="13.8" height="5.5" rx="1.8" stroke="#111" stroke-width="1.9" fill="#fff" />
<line x1="576.1" y1="250" x2="576.1" y2="264" stroke="#111" stroke-width="1.7" />
<rect x="562.3" y="336" width="13.8" height="5.5" rx="1.8" stroke="#111" stroke-width="1.9" fill="#fff" />
<rect x="562.3" y="346.6" width="13.8" height="5.5" rx="1.8" stroke="#111" stroke-width="1.9" fill="#fff" />
<line x1="576.1" y1="337" x2="576.1" y2="351" stroke="#111" stroke-width="1.7" />
<rect x="562.3" y="570" width="13.8" height="5.5" rx="1.8" stroke="#111" stroke-width="1.9" fill="#fff" />
<rect x="562.3" y="580.6" width="13.8" height="5.5" rx="1.8" stroke="#111" stroke-width="1.9" fill="#fff" />
<line x1="576.1" y1="571" x2="576.1" y2="585" stroke="#111" stroke-width="1.7" />
<rect x="562.3" y="657" width="13.8" height="5.5" rx="1.8" stroke="#111" stroke-width="1.9" fill="#fff" />
<rect x="562.3" y="667.6" width="13.8" height="5.5" rx="1.8" stroke="#111" stroke-width="1.9" fill="#fff" />
<line x1="576.1" y1="658" x2="576.1" y2="672" stroke="#111" stroke-width="1.7" />
<rect x="562.3" y="744" width="13.8" height="5.5" rx="1.8" stroke="#111" stroke-width="1.9" fill="#fff" />
<rect x="562.3" y="754.6" width="13.8" height="5.5" rx="1.8" stroke="#111" stroke-width="1.9" fill="#fff" />
<line x1="576.1" y1="745" x2="576.1" y2="759" stroke="#111" stroke-width="1.7" />
<rect x="562.3" y="831" width="13.8" height="5.5" rx="1.8" stroke="#111" stroke-width="1.9" fill="#fff" />
<rect x="562.3" y="841.6" width="13.8" height="5.5" rx="1.8" stroke="#111" stroke-width="1.9" fill="#fff" />
<line x1="576.1" y1="832" x2="576.1" y2="846" stroke="#111" stroke-width="1.7" />
<path d="M563,93 L574.5,93 L574.5,110.7 L565,113.5 Z" stroke="#111" stroke-width="1.6" fill="#fff" />
<line x1="566" y1="96" x2="574" y2="96" stroke="#aaa" stroke-width="1.3" />
<line x1="566" y1="100.2" x2="574" y2="100.2" stroke="#aaa" stroke-width="1.3" />
<line x1="566" y1="104.4" x2="574" y2="104.4" stroke="#aaa" stroke-width="1.3" />
<line x1="566" y1="108.6" x2="574" y2="108.6" stroke="#aaa" stroke-width="1.3" />
<line x1="571.5" y1="96" x2="571.5" y2="110" stroke="#111" stroke-width="1" stroke-dasharray="2 1.5"/>
<path d="M563,93 L563,116.4 L565,116.4" stroke="#111" stroke-width="1.6" fill="none" />
<path d="M563,102 C557.5,102 556.2,97.5 556.2,97.5 C556.2,94 559,92.5 562,93" stroke="#111" stroke-width="1.5" fill="none" />
<path d="M563,99.5 C560,99.5 559,97.5 559.5,97.5 C559.5,95.2 561,95 563,95" stroke="#111" stroke-width="1.1" fill="none" />
<polygon points="556.5,113.5 559.5,111.6 563,111.6 563,115.4 559.5,115.4" fill="#fff" stroke="#111" stroke-width="1.3"/>
<line x1="551" y1="105" x2="556.7" y2="105" stroke="#999" stroke-width="1.1" />
<line x1="581.8" y1="105" x2="587.2" y2="105" stroke="#999" stroke-width="1.1" />
<path d="M563,180 L574.5,180 L574.5,197.7 L565,200.5 Z" stroke="#111" stroke-width="1.6" fill="#fff" />
<line x1="566" y1="183" x2="574" y2="183" stroke="#aaa" stroke-width="1.3" />
<line x1="566" y1="187.2" x2="574" y2="187.2" stroke="#aaa" stroke-width="1.3" />
<line x1="566" y1="191.4" x2="574" y2="191.4" stroke="#aaa" stroke-width="1.3" />
<line x1="566" y1="195.6" x2="574" y2="195.6" stroke="#aaa" stroke-width="1.3" />
<line x1="571.5" y1="183" x2="571.5" y2="197" stroke="#111" stroke-width="1" stroke-dasharray="2 1.5"/>
<path d="M563,180 L563,203.4 L565,203.4" stroke="#111" stroke-width="1.6" fill="none" />
<path d="M563,189 C557.5,189 556.2,184.5 556.2,184.5 C556.2,181 559,179.5 562,180" stroke="#111" stroke-width="1.5" fill="none" />
<path d="M563,186.5 C560,186.5 559,184.5 559.5,184.5 C559.5,182.2 561,182 563,182" stroke="#111" stroke-width="1.1" fill="none" />
<polygon points="556.5,200.5 559.5,198.6 563,198.6 563,202.4 559.5,202.4" fill="#fff" stroke="#111" stroke-width="1.3"/>
<line x1="551" y1="192" x2="556.7" y2="192" stroke="#999" stroke-width="1.1" />
<line x1="581.8" y1="192" x2="587.2" y2="192" stroke="#999" stroke-width="1.1" />
<path d="M563,267 L574.5,267 L574.5,284.7 L565,287.5 Z" stroke="#111" stroke-width="1.6" fill="#fff" />
<line x1="566" y1="270" x2="574" y2="270" stroke="#aaa" stroke-width="1.3" />
<line x1="566" y1="274.2" x2="574" y2="274.2" stroke="#aaa" stroke-width="1.3" />
<line x1="566" y1="278.4" x2="574" y2="278.4" stroke="#aaa" stroke-width="1.3" />
<line x1="566" y1="282.6" x2="574" y2="282.6" stroke="#aaa" stroke-width="1.3" />
<line x1="571.5" y1="270" x2="571.5" y2="284" stroke="#111" stroke-width="1" stroke-dasharray="2 1.5"/>
<path d="M563,267 L563,290.4 L565,290.4" stroke="#111" stroke-width="1.6" fill="none" />
<path d="M563,276 C557.5,276 556.2,271.5 556.2,271.5 C556.2,268 559,266.5 562,267" stroke="#111" stroke-width="1.5" fill="none" />
<path d="M563,273.5 C560,273.5 559,271.5 559.5,271.5 C559.5,269.2 561,269 563,269" stroke="#111" stroke-width="1.1" fill="none" />
<polygon points="556.5,287.5 559.5,285.6 563,285.6 563,289.4 559.5,289.4" fill="#fff" stroke="#111" stroke-width="1.3"/>
<line x1="551" y1="279" x2="556.7" y2="279" stroke="#999" stroke-width="1.1" />
<line x1="581.8" y1="279" x2="587.2" y2="279" stroke="#999" stroke-width="1.1" />
<path d="M563,354 L574.5,354 L574.5,371.7 L565,374.5 Z" stroke="#111" stroke-width="1.6" fill="#fff" />
<line x1="566" y1="357" x2="574" y2="357" stroke="#aaa" stroke-width="1.3" />
<line x1="566" y1="361.2" x2="574" y2="361.2" stroke="#aaa" stroke-width="1.3" />
<line x1="566" y1="365.4" x2="574" y2="365.4" stroke="#aaa" stroke-width="1.3" />
<line x1="566" y1="369.6" x2="574" y2="369.6" stroke="#aaa" stroke-width="1.3" />
<line x1="571.5" y1="357" x2="571.5" y2="371" stroke="#111" stroke-width="1" stroke-dasharray="2 1.5"/>
<path d="M563,354 L563,377.4 L565,377.4" stroke="#111" stroke-width="1.6" fill="none" />
<path d="M563,363 C557.5,363 556.2,358.5 556.2,358.5 C556.2,355 559,353.5 562,354" stroke="#111" stroke-width="1.5" fill="none" />
<path d="M563,360.5 C560,360.5 559,358.5 559.5,358.5 C559.5,356.2 561,356 563,356" stroke="#111" stroke-width="1.1" fill="none" />
<polygon points="556.5,374.5 559.5,372.6 563,372.6 563,376.4 559.5,376.4" fill="#fff" stroke="#111" stroke-width="1.3"/>
<line x1="551" y1="366" x2="556.7" y2="366" stroke="#999" stroke-width="1.1" />
<line x1="581.8" y1="366" x2="587.2" y2="366" stroke="#999" stroke-width="1.1" />
<path d="M563,568 L574.5,568 L574.5,550.3 L565,547.5 Z" stroke="#111" stroke-width="1.6" fill="#fff" />
<line x1="566" y1="565" x2="574" y2="565" stroke="#aaa" stroke-width="1.3" />
<line x1="566" y1="560.8" x2="574" y2="560.8" stroke="#aaa" stroke-width="1.3" />
<line x1="566" y1="556.6" x2="574" y2="556.6" stroke="#aaa" stroke-width="1.3" />
<line x1="566" y1="552.4" x2="574" y2="552.4" stroke="#aaa" stroke-width="1.3" />
<line x1="571.5" y1="547" x2="571.5" y2="561" stroke="#111" stroke-width="1" stroke-dasharray="2 1.5"/>
<path d="M563,568 L563,544.6 L565,544.6" stroke="#111" stroke-width="1.6" fill="none" />
<path d="M563,559 C557.5,559 556.2,563.5 556.2,563.5 C556.2,567 559,568.5 562,568" stroke="#111" stroke-width="1.5" fill="none" />
<path d="M563,561.5 C560,561.5 559,563.5 559.5,563.5 C559.5,565.8 561,566 563,566" stroke="#111" stroke-width="1.1" fill="none" />
<polygon points="556.5,547.5 559.5,545.6 563,545.6 563,549.4 559.5,549.4" fill="#fff" stroke="#111" stroke-width="1.3"/>
<line x1="551" y1="556" x2="556.7" y2="556" stroke="#999" stroke-width="1.1" />
<line x1="581.8" y1="556" x2="587.2" y2="556" stroke="#999" stroke-width="1.1" />
<path d="M563,655 L574.5,655 L574.5,637.3 L565,634.5 Z" stroke="#111" stroke-width="1.6" fill="#fff" />
<line x1="566" y1="652" x2="574" y2="652" stroke="#aaa" stroke-width="1.3" />
<line x1="566" y1="647.8" x2="574" y2="647.8" stroke="#aaa" stroke-width="1.3" />
<line x1="566" y1="643.6" x2="574" y2="643.6" stroke="#aaa" stroke-width="1.3" />
<line x1="566" y1="639.4" x2="574" y2="639.4" stroke="#aaa" stroke-width="1.3" />
<line x1="571.5" y1="634" x2="571.5" y2="648" stroke="#111" stroke-width="1" stroke-dasharray="2 1.5"/>
<path d="M563,655 L563,631.6 L565,631.6" stroke="#111" stroke-width="1.6" fill="none" />
<path d="M563,646 C557.5,646 556.2,650.5 556.2,650.5 C556.2,654 559,655.5 562,655" stroke="#111" stroke-width="1.5" fill="none" />
<path d="M563,648.5 C560,648.5 559,650.5 559.5,650.5 C559.5,652.8 561,653 563,653" stroke="#111" stroke-width="1.1" fill="none" />
<polygon points="556.5,634.5 559.5,632.6 563,632.6 563,636.4 559.5,636.4" fill="#fff" stroke="#111" stroke-width="1.3"/>
<line x1="551" y1="643" x2="556.7" y2="643" stroke="#999" stroke-width="1.1" />
<line x1="581.8" y1="643" x2="587.2" y2="643" stroke="#999" stroke-width="1.1" />
<path d="M563,742 L574.5,742 L574.5,724.3 L565,721.5 Z" stroke="#111" stroke-width="1.6" fill="#fff" />
<line x1="566" y1="739" x2="574" y2="739" stroke="#aaa" stroke-width="1.3" />
<line x1="566" y1="734.8" x2="574" y2="734.8" stroke="#aaa" stroke-width="1.3" />
<line x1="566" y1="730.6" x2="574" y2="730.6" stroke="#aaa" stroke-width="1.3" />
<line x1="566" y1="726.4" x2="574" y2="726.4" stroke="#aaa" stroke-width="1.3" />
<line x1="571.5" y1="721" x2="571.5" y2="735" stroke="#111" stroke-width="1" stroke-dasharray="2 1.5"/>
<path d="M563,742 L563,718.6 L565,718.6" stroke="#111" stroke-width="1.6" fill="none" />
<path d="M563,733 C557.5,733 556.2,737.5 556.2,737.5 C556.2,741 559,742.5 562,742" stroke="#111" stroke-width="1.5" fill="none" />
<path d="M563,735.5 C560,735.5 559,737.5 559.5,737.5 C559.5,739.8 561,740 563,740" stroke="#111" stroke-width="1.1" fill="none" />
<polygon points="556.5,721.5 559.5,719.6 563,719.6 563,723.4 559.5,723.4" fill="#fff" stroke="#111" stroke-width="1.3"/>
<line x1="551" y1="730" x2="556.7" y2="730" stroke="#999" stroke-width="1.1" />
<line x1="581.8" y1="730" x2="587.2" y2="730" stroke="#999" stroke-width="1.1" />
<path d="M563,829 L574.5,829 L574.5,811.3 L565,808.5 Z" stroke="#111" stroke-width="1.6" fill="#fff" />
<line x1="566" y1="826" x2="574" y2="826" stroke="#aaa" stroke-width="1.3" />
<line x1="566" y1="821.8" x2="574" y2="821.8" stroke="#aaa" stroke-width="1.3" />
<line x1="566" y1="817.6" x2="574" y2="817.6" stroke="#aaa" stroke-width="1.3" />
<line x1="566" y1="813.4" x2="574" y2="813.4" stroke="#aaa" stroke-width="1.3" />
<line x1="571.5" y1="808" x2="571.5" y2="822" stroke="#111" stroke-width="1" stroke-dasharray="2 1.5"/>
<path d="M563,829 L563,805.6 L565,805.6" stroke="#111" stroke-width="1.6" fill="none" />
<path d="M563,820 C557.5,820 556.2,824.5 556.2,824.5 C556.2,828 559,829.5 562,829" stroke="#111" stroke-width="1.5" fill="none" />
<path d="M563,822.5 C560,822.5 559,824.5 559.5,824.5 C559.5,826.8 561,827 563,827" stroke="#111" stroke-width="1.1" fill="none" />
<polygon points="556.5,808.5 559.5,806.6 563,806.6 563,810.4 559.5,810.4" fill="#fff" stroke="#111" stroke-width="1.3"/>
<line x1="551" y1="817" x2="556.7" y2="817" stroke="#999" stroke-width="1.1" />
<line x1="581.8" y1="817" x2="587.2" y2="817" stroke="#999" stroke-width="1.1" />
<rect x="563" y="413.4" width="12.6" height="23.8" rx="2" stroke="#111" stroke-width="2" fill="#fff" />
<rect x="565.5" y="416" width="7.6" height="4.8" rx="0.8" stroke="#111" stroke-width="1.2" fill="#fff" />
<rect x="565" y="421.5" width="9" height="8" fill="#222"/>
<circle cx="566.5" cy="422.5" r="1" stroke="#111" stroke-width="0" fill="#fff" />
<circle cx="572.3" cy="422.5" r="1" stroke="#111" stroke-width="0" fill="#fff" />
<circle cx="566.5" cy="427" r="0.9" stroke="#111" stroke-width="0" fill="#ddd" />
<circle cx="572.3" cy="427" r="0.9" stroke="#111" stroke-width="0" fill="#ddd" />
<path d="M567.5,431.5 L571.5,431.5 L570.5,440 L568.5,440 Z" stroke="#111" stroke-width="0.8" fill="#111" />
<line x1="566" y1="437" x2="566" y2="444" stroke="#111" stroke-width="1.2" />
<line x1="573" y1="437" x2="573" y2="444" stroke="#111" stroke-width="1.2" />
<path d="M575,444 C580.5,443.2 583.5,447 583.8,452.5 L584,470 C583.8,476 580.5,479 575,478.5" stroke="#111" stroke-width="1.7" fill="#fff" />
<rect x="562" y="444.6" width="13.6" height="33.6" rx="2" stroke="#111" stroke-width="1.8" fill="#fff" />
<rect x="563.5" y="446" width="3" height="30" fill="#111"/>
<rect x="564.4" y="447.5" width="1.4" height="27" fill="#fff"/>
<rect x="571.6" y="446" width="3" height="30" fill="#111"/>
<rect x="572.5" y="447.5" width="1.4" height="27" fill="#fff"/>
<rect x="566.6" y="444" width="5" height="43" fill="#111"/>
<rect x="568.4" y="446" width="1.4" height="38" fill="#666"/>
<rect x="563" y="485.6" width="13" height="24" rx="2" fill="#111"/>
<path d="M565.5,503 L569.5,493 L573.5,503" stroke="#ccc" stroke-width="0.9" fill="none" />
<line x1="564.5" y1="505" x2="574.5" y2="505" stroke="#ddd" stroke-width="0.9" />
<line x1="566" y1="487.5" x2="566" y2="492" stroke="#aaa" stroke-width="0.8" />
<line x1="573" y1="487.5" x2="573" y2="492" stroke="#aaa" stroke-width="0.8" />
<line x1="551" y1="425" x2="556.7" y2="425" stroke="#999" stroke-width="1.1" />
<line x1="581.8" y1="425" x2="587.2" y2="425" stroke="#999" stroke-width="1.1" />
<line x1="551" y1="497" x2="556.7" y2="497" stroke="#999" stroke-width="1.1" />
<line x1="581.8" y1="497" x2="587.2" y2="497" stroke="#999" stroke-width="1.1" />
<circle cx="566" cy="182" r="33.4" stroke="#333" stroke-width="0.8" fill="none" />
<path d="M614,125 L600,125 L584.5,151.8" stroke="#333" stroke-width="0.8" fill="none" />
<polygon points="584.5,151.8 587.59,143.77 589.92,145.12" fill="#111"/>
<text x="620.7" y="132.14" font-size="19" text-anchor="middle" fill="#111" >A</text>
<line x1="538" y1="863.4" x2="610" y2="863.4" stroke="#444" stroke-width="0.8" stroke-dasharray="1.6 1.6"/>
<line x1="569.3" y1="863" x2="569.3" y2="871" stroke="#666" stroke-width="0.7" />
<path d="M611,859.5 L619.5,865.5 M611,867.5 L619.5,861.5" stroke="#222" stroke-width="1" fill="none" />
<circle cx="620.6" cy="860.5" r="1.3" stroke="#222" stroke-width="0.9" fill="none" />
<circle cx="620.6" cy="866.5" r="1.3" stroke="#222" stroke-width="0.9" fill="none" />
<circle cx="595.1" cy="889.7" r="12" stroke="#111" stroke-width="1.8" fill="none" />
<text x="595" y="896.4" font-size="20" text-anchor="middle" fill="#111" >4</text>
<line x1="653" y1="52" x2="653" y2="59" stroke="#666" stroke-width="0.7" />
<line x1="653" y1="862" x2="653" y2="870" stroke="#666" stroke-width="0.7" />
<rect x="651.4" y="59" width="3.2" height="803" fill="#5a5a5a" stroke="#333" stroke-width="0.5"/>
<path d="M650.2,75 L660.5,75 Q664.4,75 664.4,79 L664.4,87 Q664.4,91 660.5,91 L650.2,91 Z" stroke="#111" stroke-width="1.5" fill="#fff" />
<rect x="650" y="74.8" width="4.6" height="16.4" fill="#111"/>
<rect x="651.5" y="79.2" width="3.3" height="1.2" fill="#888"/>
<rect x="651.5" y="85.8" width="3.3" height="1.2" fill="#888"/>
<ellipse cx="659.2" cy="83.4" rx="2.6" ry="1.9" fill="none" stroke="#111" stroke-width="1.3"/>
<path d="M650.2,162 L660.5,162 Q664.4,162 664.4,166 L664.4,174 Q664.4,178 660.5,178 L650.2,178 Z" stroke="#111" stroke-width="1.5" fill="#fff" />
<rect x="650" y="161.8" width="4.6" height="16.4" fill="#111"/>
<rect x="651.5" y="166.2" width="3.3" height="1.2" fill="#888"/>
<rect x="651.5" y="172.8" width="3.3" height="1.2" fill="#888"/>
<ellipse cx="659.2" cy="170.4" rx="2.6" ry="1.9" fill="none" stroke="#111" stroke-width="1.3"/>
<path d="M650.2,249 L660.5,249 Q664.4,249 664.4,253 L664.4,261 Q664.4,265 660.5,265 L650.2,265 Z" stroke="#111" stroke-width="1.5" fill="#fff" />
<rect x="650" y="248.8" width="4.6" height="16.4" fill="#111"/>
<rect x="651.5" y="253.2" width="3.3" height="1.2" fill="#888"/>
<rect x="651.5" y="259.8" width="3.3" height="1.2" fill="#888"/>
<ellipse cx="659.2" cy="257.4" rx="2.6" ry="1.9" fill="none" stroke="#111" stroke-width="1.3"/>
<path d="M650.2,336 L660.5,336 Q664.4,336 664.4,340 L664.4,348 Q664.4,352 660.5,352 L650.2,352 Z" stroke="#111" stroke-width="1.5" fill="#fff" />
<rect x="650" y="335.8" width="4.6" height="16.4" fill="#111"/>
<rect x="651.5" y="340.2" width="3.3" height="1.2" fill="#888"/>
<rect x="651.5" y="346.8" width="3.3" height="1.2" fill="#888"/>
<ellipse cx="659.2" cy="344.4" rx="2.6" ry="1.9" fill="none" stroke="#111" stroke-width="1.3"/>
<path d="M650.2,570 L660.5,570 Q664.4,570 664.4,574 L664.4,582 Q664.4,586 660.5,586 L650.2,586 Z" stroke="#111" stroke-width="1.5" fill="#fff" />
<rect x="650" y="569.8" width="4.6" height="16.4" fill="#111"/>
<rect x="651.5" y="574.2" width="3.3" height="1.2" fill="#888"/>
<rect x="651.5" y="580.8" width="3.3" height="1.2" fill="#888"/>
<ellipse cx="659.2" cy="578.4" rx="2.6" ry="1.9" fill="none" stroke="#111" stroke-width="1.3"/>
<path d="M650.2,657 L660.5,657 Q664.4,657 664.4,661 L664.4,669 Q664.4,673 660.5,673 L650.2,673 Z" stroke="#111" stroke-width="1.5" fill="#fff" />
<rect x="650" y="656.8" width="4.6" height="16.4" fill="#111"/>
<rect x="651.5" y="661.2" width="3.3" height="1.2" fill="#888"/>
<rect x="651.5" y="667.8" width="3.3" height="1.2" fill="#888"/>
<ellipse cx="659.2" cy="665.4" rx="2.6" ry="1.9" fill="none" stroke="#111" stroke-width="1.3"/>
<path d="M650.2,744 L660.5,744 Q664.4,744 664.4,748 L664.4,756 Q664.4,760 660.5,760 L650.2,760 Z" stroke="#111" stroke-width="1.5" fill="#fff" />
<rect x="650" y="743.8" width="4.6" height="16.4" fill="#111"/>
<rect x="651.5" y="748.2" width="3.3" height="1.2" fill="#888"/>
<rect x="651.5" y="754.8" width="3.3" height="1.2" fill="#888"/>
<ellipse cx="659.2" cy="752.4" rx="2.6" ry="1.9" fill="none" stroke="#111" stroke-width="1.3"/>
<path d="M650.2,831 L660.5,831 Q664.4,831 664.4,835 L664.4,843 Q664.4,847 660.5,847 L650.2,847 Z" stroke="#111" stroke-width="1.5" fill="#fff" />
<rect x="650" y="830.8" width="4.6" height="16.4" fill="#111"/>
<rect x="651.5" y="835.2" width="3.3" height="1.2" fill="#888"/>
<rect x="651.5" y="841.8" width="3.3" height="1.2" fill="#888"/>
<ellipse cx="659.2" cy="839.4" rx="2.6" ry="1.9" fill="none" stroke="#111" stroke-width="1.3"/>
<rect x="645.2" y="93" width="15.9" height="24" rx="3.2" stroke="#111" stroke-width="1.6" fill="#fff" />
<path d="M649,94 L649,100 Q649,103 653.1,103 Q657.3,103 657.3,100 L657.3,94" stroke="#111" stroke-width="1.2" fill="#e4e4e4" />
<line x1="653.1" y1="94" x2="653.1" y2="102" stroke="#999" stroke-width="1.2" />
<circle cx="653" cy="113" r="1.7" stroke="#111" stroke-width="1.1" fill="none" />
<line x1="648" y1="105" x2="658" y2="105" stroke="#999" stroke-width="0.9" />
<rect x="645.2" y="180" width="15.9" height="24" rx="3.2" stroke="#111" stroke-width="1.6" fill="#fff" />
<path d="M649,181 L649,187 Q649,190 653.1,190 Q657.3,190 657.3,187 L657.3,181" stroke="#111" stroke-width="1.2" fill="#e4e4e4" />
<line x1="653.1" y1="181" x2="653.1" y2="189" stroke="#999" stroke-width="1.2" />
<circle cx="653" cy="200" r="1.7" stroke="#111" stroke-width="1.1" fill="none" />
<line x1="648" y1="192" x2="658" y2="192" stroke="#999" stroke-width="0.9" />
<rect x="645.2" y="267" width="15.9" height="24" rx="3.2" stroke="#111" stroke-width="1.6" fill="#fff" />
<path d="M649,268 L649,274 Q649,277 653.1,277 Q657.3,277 657.3,274 L657.3,268" stroke="#111" stroke-width="1.2" fill="#e4e4e4" />
<line x1="653.1" y1="268" x2="653.1" y2="276" stroke="#999" stroke-width="1.2" />
<circle cx="653" cy="287" r="1.7" stroke="#111" stroke-width="1.1" fill="none" />
<line x1="648" y1="279" x2="658" y2="279" stroke="#999" stroke-width="0.9" />
<rect x="645.2" y="354" width="15.9" height="24" rx="3.2" stroke="#111" stroke-width="1.6" fill="#fff" />
<path d="M649,355 L649,361 Q649,364 653.1,364 Q657.3,364 657.3,361 L657.3,355" stroke="#111" stroke-width="1.2" fill="#e4e4e4" />
<line x1="653.1" y1="355" x2="653.1" y2="363" stroke="#999" stroke-width="1.2" />
<circle cx="653" cy="374" r="1.7" stroke="#111" stroke-width="1.1" fill="none" />
<line x1="648" y1="366" x2="658" y2="366" stroke="#999" stroke-width="0.9" />
<rect x="645.2" y="544" width="15.9" height="24" rx="3.2" stroke="#111" stroke-width="1.6" fill="#fff" />
<path d="M649,567 L649,561 Q649,558 653.1,558 Q657.3,558 657.3,561 L657.3,567" stroke="#111" stroke-width="1.2" fill="#e4e4e4" />
<line x1="653.1" y1="567" x2="653.1" y2="559" stroke="#999" stroke-width="1.2" />
<circle cx="653" cy="548" r="1.7" stroke="#111" stroke-width="1.1" fill="none" />
<line x1="648" y1="556" x2="658" y2="556" stroke="#999" stroke-width="0.9" />
<rect x="645.2" y="631" width="15.9" height="24" rx="3.2" stroke="#111" stroke-width="1.6" fill="#fff" />
<path d="M649,654 L649,648 Q649,645 653.1,645 Q657.3,645 657.3,648 L657.3,654" stroke="#111" stroke-width="1.2" fill="#e4e4e4" />
<line x1="653.1" y1="654" x2="653.1" y2="646" stroke="#999" stroke-width="1.2" />
<circle cx="653" cy="635" r="1.7" stroke="#111" stroke-width="1.1" fill="none" />
<line x1="648" y1="643" x2="658" y2="643" stroke="#999" stroke-width="0.9" />
<rect x="645.2" y="718" width="15.9" height="24" rx="3.2" stroke="#111" stroke-width="1.6" fill="#fff" />
<path d="M649,741 L649,735 Q649,732 653.1,732 Q657.3,732 657.3,735 L657.3,741" stroke="#111" stroke-width="1.2" fill="#e4e4e4" />
<line x1="653.1" y1="741" x2="653.1" y2="733" stroke="#999" stroke-width="1.2" />
<circle cx="653" cy="722" r="1.7" stroke="#111" stroke-width="1.1" fill="none" />
<line x1="648" y1="730" x2="658" y2="730" stroke="#999" stroke-width="0.9" />
<rect x="645.2" y="805" width="15.9" height="24" rx="3.2" stroke="#111" stroke-width="1.6" fill="#fff" />
<path d="M649,828 L649,822 Q649,819 653.1,819 Q657.3,819 657.3,822 L657.3,828" stroke="#111" stroke-width="1.2" fill="#e4e4e4" />
<line x1="653.1" y1="828" x2="653.1" y2="820" stroke="#999" stroke-width="1.2" />
<circle cx="653" cy="809" r="1.7" stroke="#111" stroke-width="1.1" fill="none" />
<line x1="648" y1="817" x2="658" y2="817" stroke="#999" stroke-width="0.9" />
<line x1="639" y1="105" x2="640.5" y2="105" stroke="#999" stroke-width="0.8" />
<line x1="639" y1="192" x2="640.5" y2="192" stroke="#999" stroke-width="0.8" />
<line x1="639" y1="279" x2="640.5" y2="279" stroke="#999" stroke-width="0.8" />
<line x1="639" y1="366" x2="640.5" y2="366" stroke="#999" stroke-width="0.8" />
<line x1="639" y1="556" x2="640.5" y2="556" stroke="#999" stroke-width="0.8" />
<line x1="639" y1="643" x2="640.5" y2="643" stroke="#999" stroke-width="0.8" />
<line x1="639" y1="730" x2="640.5" y2="730" stroke="#999" stroke-width="0.8" />
<line x1="639" y1="817" x2="640.5" y2="817" stroke="#999" stroke-width="0.8" />
<path d="M650.3,413.4 L656.3,413.4 L656.3,431.4 L649.5,431.4 L649.5,444 L644,444 L644,431.4 L650.3,420.5 Z" stroke="#111" stroke-width="1.5" fill="#fff" />
<path d="M656.3,508.7 L650.3,508.7 L650.3,490.8 L657,490.8 L657,479 L662.6,479 L662.6,490.8 L656.3,502 Z" stroke="#111" stroke-width="1.5" fill="#fff" />
<rect x="642.8" y="444" width="20.8" height="35" rx="2.2" fill="#111"/>
<circle cx="653.2" cy="461.3" r="6" stroke="#bbb" stroke-width="1.2" fill="#333" />
<circle cx="653.2" cy="461.3" r="3.2" stroke="#999" stroke-width="1" fill="#222" />
<rect x="649.5" y="446.5" width="7.5" height="7" rx="1.5" stroke="#ccc" stroke-width="1" fill="#111" />
<rect x="649.5" y="468.5" width="7.5" height="7" rx="1.5" stroke="#ccc" stroke-width="1" fill="#111" />
<line x1="647" y1="425" x2="657" y2="425" stroke="#999" stroke-width="0.8" />
<line x1="647" y1="497" x2="657" y2="497" stroke="#999" stroke-width="0.8" />
<line x1="635.5" y1="461.3" x2="640" y2="461.3" stroke="#999" stroke-width="1" />
<line x1="666" y1="461.3" x2="671" y2="461.3" stroke="#999" stroke-width="1" />
<circle cx="655.3" cy="566.6" r="36" stroke="#333" stroke-width="0.8" fill="none" />
<path d="M615.8,612.8 L630.4,612.8 L637.4,599.1" stroke="#333" stroke-width="0.8" fill="none" />
<polygon points="637.4,599.1 634.73,607.28 632.33,606.05" fill="#111"/>
<text x="608" y="620.14" font-size="19" text-anchor="middle" fill="#111" >B</text>
<circle cx="406" cy="923" r="25" stroke="#555" stroke-width="0.8" fill="none" />
<path d="M391.4,893.8 L391.4,913.6 L417.5,913.6 L417.5,925" stroke="#111" stroke-width="2.6" fill="none" />
<path d="M393,918 L393,929 L450.4,929" stroke="#111" stroke-width="2.6" fill="none" stroke-linecap="round"/>
<rect x="395" y="917" width="22" height="11" fill="#222"/>
<rect x="396.6" y="918.3" width="4.6" height="9" fill="#fff"/><rect x="406.2" y="918.3" width="4.6" height="9" fill="#fff"/><rect x="412.6" y="919" width="2.4" height="8" fill="#ccc"/>
<path d="M395,930 L396,934 Q397,936.3 400,936.3 L411,936.3 Q414,936.3 414.5,934 L415,930" stroke="#111" stroke-width="1.4" fill="#fff" />
<path d="M397.5,935.5 Q405,938 412.5,935.5" stroke="#111" stroke-width="2" fill="none" />
<path d="M400.5,914 L400.5,911.5 Q400.5,909.8 402.5,909.8 L406.5,909.8 Q408.5,909.8 408.5,911.5 L408.5,914" stroke="#111" stroke-width="1.2" fill="#fff" />
<path d="M404.5,909.8 L404.5,907.5" stroke="#111" stroke-width="1.2" fill="none" />
<polygon points="417,918 421,929 417,929" fill="#111"/>
<path d="M482,968 L468,968 L427.1,938.2" stroke="#333" stroke-width="0.8" fill="none" />
<polygon points="427.1,938.2 434.76,942.11 433.17,944.3" fill="#111"/>
<text x="488.5" y="974.94" font-size="19" text-anchor="middle" fill="#111" >C</text>
<text x="732.7" y="49.54" font-size="19" text-anchor="middle" fill="#111" >A</text>
<line x1="790.4" y1="8" x2="790.4" y2="360" stroke="#aaa" stroke-width="1.3" stroke-dasharray="16 6 3 6"/>
<path d="M770,21.3 L810.8,18.4 L810.8,350.4 L770,352.8 Z" stroke="#111" stroke-width="1.7" fill="none" />
<path d="M758.3,90.2 L822.2,90.2 L822.2,165.3 L758.3,165.3 L758.3,141.2 L770,141.2 L770,114.7 L758.3,114.7 Z" stroke="#111" stroke-width="1.7" fill="#fff" />
<line x1="770" y1="114.7" x2="770" y2="141.2" stroke="#111" stroke-width="1.7" />
<line x1="758.3" y1="114.7" x2="811" y2="114.7" stroke="#111" stroke-width="1.7" />
<line x1="758.3" y1="141.2" x2="811" y2="141.2" stroke="#111" stroke-width="1.7" />
<line x1="758.3" y1="111" x2="811" y2="109.7" stroke="#111" stroke-width="1.6" />
<line x1="758.3" y1="143.7" x2="811" y2="146.2" stroke="#111" stroke-width="1.6" />
<line x1="811" y1="90.2" x2="811" y2="165.3" stroke="#111" stroke-width="1.7" />
<path d="M822,91.4 L816.4,104.7 L816.4,151.2 L822,164.5" stroke="#111" stroke-width="1.3" fill="none" />
<line x1="816.4" y1="104.7" x2="816.4" y2="151.2" stroke="#bbb" stroke-width="1" />
<line x1="790.4" y1="90.2" x2="790.4" y2="165.3" stroke="#aaa" stroke-width="1.3" stroke-dasharray="16 6 3 6"/>
<path d="M761.9,178.3 L810,181 Q813.3,181.5 813.3,185 L813.3,263.3 L764.8,271.4 Z" stroke="#111" stroke-width="1.7" fill="#fff" />
<line x1="765" y1="195.2" x2="813" y2="195.2" stroke="#d0d0d0" stroke-width="2.6" />
<line x1="765" y1="212" x2="813" y2="212" stroke="#d0d0d0" stroke-width="2.6" />
<line x1="765" y1="218.6" x2="813" y2="218.6" stroke="#d0d0d0" stroke-width="2.6" />
<line x1="765" y1="234.7" x2="813" y2="234.7" stroke="#d0d0d0" stroke-width="2.6" />
<line x1="765" y1="242" x2="813" y2="242" stroke="#d0d0d0" stroke-width="2.6" />
<line x1="765" y1="258.2" x2="813" y2="258.2" stroke="#d0d0d0" stroke-width="2.6" />
<line x1="765.2" y1="197" x2="765.2" y2="210" stroke="#111" stroke-width="1.8" />
<line x1="805.8" y1="197" x2="805.8" y2="210" stroke="#111" stroke-width="1.7" />
<line x1="765.2" y1="220" x2="765.2" y2="233" stroke="#111" stroke-width="1.8" />
<line x1="805.8" y1="220" x2="805.8" y2="233" stroke="#111" stroke-width="1.7" />
<line x1="765.2" y1="244" x2="765.2" y2="257" stroke="#111" stroke-width="1.8" />
<line x1="805.8" y1="244" x2="805.8" y2="257" stroke="#111" stroke-width="1.7" />
<line x1="790.4" y1="170" x2="790.4" y2="360" stroke="#aaa" stroke-width="1.3" stroke-dasharray="16 6 3 6"/>
<line x1="772" y1="236.5" x2="808" y2="236.5" stroke="#777" stroke-width="0.8" stroke-dasharray="6 3"/>
<path d="M767,178 L761,178 Q755.3,178 755.3,186 L755.3,292 Q755.3,294 757.3,294 L765,294 Q767,294 767,292 Z" stroke="#111" stroke-width="1.7" fill="#fff" />
<line x1="761" y1="258" x2="761" y2="292" stroke="#ccc" stroke-width="0.8" />
<line x1="765.6" y1="197" x2="765.6" y2="210" stroke="#111" stroke-width="1.8" />
<line x1="765.6" y1="220" x2="765.6" y2="233" stroke="#111" stroke-width="1.8" />
<line x1="765.6" y1="244" x2="765.6" y2="257" stroke="#111" stroke-width="1.8" />
<path d="M755.3,224.5 C740,224.5 729.7,214 729.7,201 C729.7,188 739,180.5 748,181 C752,181.5 753,184 751.5,186 C745,190 740.6,195 740.6,202 C740.6,209 746,214.2 755.3,214.2" stroke="#111" stroke-width="1.7" fill="#fff" />
<path d="M727.5,277.7 L738.4,270.5 L755.3,270.5 L755.3,285.3 L738.4,285.3 Z" stroke="#111" stroke-width="1.6" fill="#fff" />
<line x1="738.4" y1="270.5" x2="738.4" y2="285.3" stroke="#111" stroke-width="1.4" />
<line x1="738.4" y1="277.9" x2="755.3" y2="277.9" stroke="#111" stroke-width="1.4" />
<line x1="741.5" y1="270.5" x2="741.5" y2="285.3" stroke="#111" stroke-width="1" />
<text x="726.7" y="411.34" font-size="19" text-anchor="middle" fill="#111" >B</text>
<path d="M784.6,394 L793.5,394 L793.5,749.2 L784.6,749.2 Z" stroke="#111" stroke-width="1.6" fill="#fff" />
<line x1="789" y1="396" x2="789" y2="748" stroke="#999" stroke-width="0.9" stroke-dasharray="8 3 2 3"/>
<rect x="751" y="461" width="76.4" height="116.4" rx="13" stroke="#111" stroke-width="1.7" fill="#fff" />
<line x1="789" y1="463" x2="789" y2="575" stroke="#999" stroke-width="0.9" stroke-dasharray="8 3 2 3"/>
<circle cx="789.1" cy="478.6" r="6.9" stroke="#111" stroke-width="3.3" fill="none" />
<line x1="789.1" y1="473.6" x2="789.1" y2="469.9" stroke="#fff" stroke-width="1.1" />
<line x1="789.1" y1="469.9" x2="789.1" y2="469" stroke="#444" stroke-width="1" />
<line x1="789.1" y1="483.6" x2="789.1" y2="487.3" stroke="#fff" stroke-width="1.1" />
<line x1="789.1" y1="487.3" x2="789.1" y2="488.2" stroke="#444" stroke-width="1" />
<line x1="784.1" y1="478.6" x2="780.4" y2="478.6" stroke="#fff" stroke-width="1.1" />
<line x1="780.4" y1="478.6" x2="779.5" y2="478.6" stroke="#444" stroke-width="1" />
<line x1="794.1" y1="478.6" x2="797.8" y2="478.6" stroke="#fff" stroke-width="1.1" />
<line x1="797.8" y1="478.6" x2="798.7" y2="478.6" stroke="#444" stroke-width="1" />
<line x1="728" y1="519.3" x2="834" y2="519.3" stroke="#888" stroke-width="0.9" stroke-dasharray="8 4"/>
<path d="M771.2,536.4 L807,536.4 L807,557 A17.9,17.9 0 0 1 771.2,557 Z" stroke="#111" stroke-width="1.6" fill="#fff" />
<line x1="751" y1="562.5" x2="827.4" y2="562.5" stroke="#c8c8c8" stroke-width="0.9" />
<rect x="786.6" y="531.3" width="5" height="45" rx="1.2" stroke="#111" stroke-width="1.4" fill="#fff" />
<line x1="789.1" y1="534" x2="789.1" y2="574" stroke="#bbb" stroke-width="1.6" />
<path d="M797.8,590.3 L828,590.3 Q842.8,590.3 842.8,605 L842.8,651 Q842.8,665.7 828,665.7 L797.8,665.7" stroke="#111" stroke-width="1.7" fill="#fff" />
<rect x="776.4" y="590.3" width="11.2" height="24.9" rx="1.3" stroke="#111" stroke-width="1.6" fill="#fff" />
<rect x="776.4" y="641.6" width="11.2" height="24.1" rx="1.3" stroke="#111" stroke-width="1.6" fill="#fff" />
<line x1="776.4" y1="615" x2="776.4" y2="641.6" stroke="#111" stroke-width="1.6" />
<line x1="781.5" y1="592" x2="781.5" y2="613.5" stroke="#bbb" stroke-width="1.2" />
<line x1="781.5" y1="643" x2="781.5" y2="664" stroke="#bbb" stroke-width="1.2" />
<rect x="790.5" y="590.3" width="7.3" height="24.9" rx="1.3" stroke="#111" stroke-width="1.6" fill="#fff" />
<rect x="790.5" y="641.6" width="7.3" height="24.1" rx="1.3" stroke="#111" stroke-width="1.6" fill="#fff" />
<line x1="798.5" y1="592" x2="798.5" y2="612" stroke="#ccc" stroke-width="1.5" />
<line x1="798.5" y1="644" x2="798.5" y2="664" stroke="#ccc" stroke-width="1.5" />
<path d="M797.8,615 L802.5,609.5 M797.8,641.6 L802.5,647" stroke="#111" stroke-width="1.4" fill="none" />
<rect x="806.2" y="618.8" width="25.6" height="18.4" rx="9.2" fill="#fff" stroke="#111" stroke-width="1.7"/>
<line x1="818.6" y1="585" x2="818.6" y2="720" stroke="#777" stroke-width="0.8" stroke-dasharray="8 3 2 3"/>
<line x1="815.7" y1="610" x2="815.7" y2="690" stroke="#777" stroke-width="0.8" stroke-dasharray="6 3"/>
<line x1="822.3" y1="610" x2="822.3" y2="690" stroke="#777" stroke-width="0.8" stroke-dasharray="6 3"/>
<line x1="760" y1="628" x2="848" y2="628" stroke="#777" stroke-width="0.8" stroke-dasharray="8 3 2 3"/>
<line x1="818" y1="618.5" x2="880" y2="618.5" stroke="#7c7c7c" stroke-width="1.0" />
<line x1="818" y1="637.5" x2="880" y2="637.5" stroke="#7c7c7c" stroke-width="1.0" />
<line x1="728" y1="628.5" x2="776" y2="628.5" stroke="#7c7c7c" stroke-width="1.0" />
<line x1="730.5" y1="519.3" x2="730.5" y2="628" stroke="#7c7c7c" stroke-width="1.0" />
<polygon points="730.8,519.3 732.15,527.8 729.45,527.8" fill="#111"/>
<polygon points="730.8,628 729.45,619.5 732.15,619.5" fill="#111"/>
<text transform="translate(722.2,573.5) rotate(-90)" y="4.68" font-size="13" text-anchor="middle" fill="#111" >37.5</text>
<line x1="875.5" y1="602" x2="875.5" y2="665.7" stroke="#7c7c7c" stroke-width="1.0" />
<polygon points="875,618.8 873.65,612.8 876.35,612.8" fill="#111"/>
<polygon points="875,637.2 876.35,643.2 873.65,643.2" fill="#111"/>
<text transform="translate(867.7,657.5) rotate(-90)" y="4.68" font-size="13" text-anchor="middle" fill="#111" >6.3</text>
<line x1="815.5" y1="640" x2="815.5" y2="690" stroke="#7c7c7c" stroke-width="1.0" />
<line x1="822.5" y1="640" x2="822.5" y2="690" stroke="#7c7c7c" stroke-width="1.0" />
<line x1="798" y1="685.5" x2="861" y2="685.5" stroke="#7c7c7c" stroke-width="1.0" />
<polygon points="815.7,685 809.7,686.35 809.7,683.65" fill="#111"/>
<polygon points="822.3,685 828.3,683.65 828.3,686.35" fill="#111"/>
<text x="849" y="682.48" font-size="13" text-anchor="middle" fill="#111" >2.3</text>
<line x1="818.5" y1="690" x2="818.5" y2="722" stroke="#7c7c7c" stroke-width="1.0" />
<line x1="771.7" y1="716.5" x2="856" y2="716.5" stroke="#7c7c7c" stroke-width="1.0" />
<polygon points="784.6,716.7 778.6,718.05 778.6,715.35" fill="#111"/>
<polygon points="818.6,716.7 824.6,715.35 824.6,718.05" fill="#111"/>
<text x="842" y="714.18" font-size="13" text-anchor="middle" fill="#111" >10.3</text>
<text x="741.5" y="762.14" font-size="19" text-anchor="middle" fill="#111" >C</text>
<line x1="732" y1="806" x2="732" y2="945" stroke="#666" stroke-width="0.7" />
<line x1="791.4" y1="835" x2="791.4" y2="848" stroke="#666" stroke-width="0.7" />
<line x1="853.8" y1="806" x2="853.8" y2="874" stroke="#666" stroke-width="0.7" />
<line x1="732" y1="809.5" x2="853.8" y2="809.5" stroke="#7c7c7c" stroke-width="1.0" />
<polygon points="732,809.9 740.5,808.55 740.5,811.25" fill="#111"/>
<polygon points="853.8,809.9 845.3,811.25 845.3,808.55" fill="#111"/>
<text x="788.3" y="808.08" font-size="13" text-anchor="middle" fill="#111" >42</text>
<line x1="732" y1="838.5" x2="791.4" y2="838.5" stroke="#7c7c7c" stroke-width="1.0" />
<polygon points="732,838.8 740.5,837.45 740.5,840.15" fill="#111"/>
<polygon points="791.4,838.8 782.9,840.15 782.9,837.45" fill="#111"/>
<text x="759.8" y="836.28" font-size="13" text-anchor="middle" fill="#111" >20.5</text>
<path d="M773.3,869.6 L773.3,857 Q773.3,854.4 776,854.4 L806,854.4 Q808.7,854.4 808.7,857 L808.7,869.6" stroke="#111" stroke-width="1.5" fill="#fff" />
<path d="M776,857 Q791,873 806,857" stroke="#bbb" stroke-width="0.8" fill="none" />
<path d="M789.2,869 L789.2,852 L791.2,847.4 L793.2,852 L793.2,869" stroke="#111" stroke-width="1.2" fill="#fff" />
<path d="M753.6,876.4 Q766,881 779.4,880.3 L778.6,930.3 L757.5,930.3 Z" stroke="#111" stroke-width="1.5" fill="#fff" />
<path d="M829,876.4 Q816,881 802.6,880.3 L803.4,930.3 L824.5,930.3 Z" stroke="#111" stroke-width="1.5" fill="#fff" />
<line x1="755" y1="886.6" x2="779" y2="886.6" stroke="#111" stroke-width="1.3" />
<line x1="803" y1="886.6" x2="828" y2="886.6" stroke="#111" stroke-width="1.3" />
<rect x="748.9" y="878" width="6.3" height="52.3" rx="1.5" stroke="#111" stroke-width="1.4" fill="#fff" />
<rect x="746.3" y="901.4" width="8.7" height="16.4" rx="1.5" stroke="#111" stroke-width="1.4" fill="#fff" />
<rect x="828.6" y="878" width="5" height="52.3" rx="1.5" stroke="#111" stroke-width="1.4" fill="#fff" />
<rect x="828" y="901.4" width="8.6" height="16.4" rx="1.5" stroke="#111" stroke-width="1.4" fill="#fff" />
<path d="M781,878 L788,878 L791,884 L794,878 L801,878 L802.8,935 Q802.8,941.2 797,941.2 L743,941.2 L738.5,931 L781,931 Z" stroke="#111" stroke-width="1.5" fill="#fff" />
<rect x="786.4" y="888" width="10.2" height="42.3" rx="0" stroke="#111" stroke-width="1.6" fill="#fff" />
<line x1="791.6" y1="850" x2="791.6" y2="990" stroke="#888" stroke-width="0.8" stroke-dasharray="8 3 2 3"/>
<path d="M806,933 L832,931 L832,941 L806,941 Z" stroke="#111" stroke-width="1.2" fill="#fff" />
<path d="M726,794 L726,864 Q726,872.6 735,872.6 L848,872.6 Q856.7,872.6 856.7,881 L856.7,924" stroke="#111" stroke-width="6.6" fill="none" stroke-linejoin="round"/>
<path d="M726,795.5 L726,864 Q726,872.6 735,872.6 L848,872.6 Q856.7,872.6 856.7,881 L856.7,922.5" stroke="#fff" stroke-width="3.4" fill="none" />
<path d="M853,903 Q853,898.5 850,898.5 Q846.7,898.5 846.5,903 L844.4,924 Q844.4,932 857,932 Q869.3,932 869.3,924 L867.3,903 Q867,898.5 863.5,898.5 Q860.2,898.5 860.1,903" stroke="#111" stroke-width="1.8" fill="#fff" />
<path d="M850.2,902 L848.2,923 Q848.2,928.5 857,928.5 Q865.8,928.5 865.8,923 L863.6,902" stroke="#111" stroke-width="1.1" fill="none" />
<path d="M851.3,905 L851.3,922 Q851.3,925.5 857,925.5 Q862.5,925.5 862.5,922 L862.3,905" stroke="#111" stroke-width="1.1" fill="none" />
<ellipse cx="857" cy="935.5" rx="9.5" ry="3.6" fill="#fff" stroke="#111" stroke-width="1.5"/>
<path d="M839.6,941.2 Q843.5,939 843.5,934 Q843,929.5 845,928 M874.4,941.2 Q870.5,939 870.5,934 Q871,929.5 869,928" stroke="#111" stroke-width="1.5" fill="none" />
<path d="M856.7,881 L856.7,924" stroke="#111" stroke-width="6.6" fill="none" />
<path d="M856.7,882 L856.7,922.5" stroke="#fff" stroke-width="3.4" fill="none" />
<path d="M734.5,889.7 L734.5,936 Q734.5,944.7 743,944.7 L899,944.7" stroke="#111" stroke-width="6.2" fill="none" stroke-linecap="round"/>
<path d="M734.5,891 L734.5,936 Q734.5,944.7 743,944.7 L899,944.7" stroke="#fff" stroke-width="3" fill="none" stroke-linecap="round"/>
<path d="M741.9,947.5 L742.6,964 Q743.5,972.5 751,972.5 L833,972.5 Q840.5,972.5 841.2,964 L841.9,947.5" stroke="#111" stroke-width="1.5" fill="#fff" />
<path d="M752,972.5 Q758,978.6 770,978.8 L812,978.8 Q824,978.6 830,972.5" stroke="#111" stroke-width="1.5" fill="#fff" />
<path d="M747,961 Q791,955 836,961" stroke="#ccc" stroke-width="1" fill="none" />
<line x1="791.6" y1="947" x2="791.6" y2="990" stroke="#888" stroke-width="0.8" stroke-dasharray="8 3 2 3"/>
<line x1="860" y1="875.2" x2="898" y2="875.2" stroke="#666" stroke-width="0.7" />
<line x1="830" y1="978" x2="898" y2="978" stroke="#666" stroke-width="0.7" />
<line x1="894.5" y1="875.2" x2="894.5" y2="978" stroke="#7c7c7c" stroke-width="1.0" />
<polygon points="894,875.2 895.35,883.7 892.65,883.7" fill="#111"/>
<polygon points="894,941 892.65,932.5 895.35,932.5" fill="#111"/>
<polygon points="894,947.5 895.35,953.5 892.65,953.5" fill="#111"/>
<polygon points="894,978 892.65,969.5 895.35,969.5" fill="#111"/>
<text transform="translate(886.8,911.3) rotate(-90)" y="4.68" font-size="13" text-anchor="middle" fill="#111" >25</text>
<text transform="translate(886.8,959.5) rotate(-90)" y="4.68" font-size="13" text-anchor="middle" fill="#111" >11</text>
<line x1="741.9" y1="950" x2="741.9" y2="1018" stroke="#666" stroke-width="0.7" />
<line x1="841.9" y1="950" x2="841.9" y2="1018" stroke="#666" stroke-width="0.7" />
<line x1="741.9" y1="1013.5" x2="841.9" y2="1013.5" stroke="#7c7c7c" stroke-width="1.0" />
<polygon points="741.9,1013.4 750.4,1012.05 750.4,1014.75" fill="#111"/>
<polygon points="841.9,1013.4 833.4,1014.75 833.4,1012.05" fill="#111"/>
<text x="791.9" y="1011.58" font-size="13" text-anchor="middle" fill="#111" >34.4</text>
<circle cx="899.3" cy="828.3" r="12.1" stroke="#111" stroke-width="1.8" fill="none" />
<text x="899.3" y="836.06" font-size="21" text-anchor="middle" fill="#111" >3</text>
<line x1="893.5" y1="842" x2="866" y2="901.6" stroke="#333" stroke-width="0.8" />
<path d="M786,740 L786,749 L793,749 L793,740" stroke="#111" stroke-width="1.3" fill="#fff" />
</svg></body></html>
